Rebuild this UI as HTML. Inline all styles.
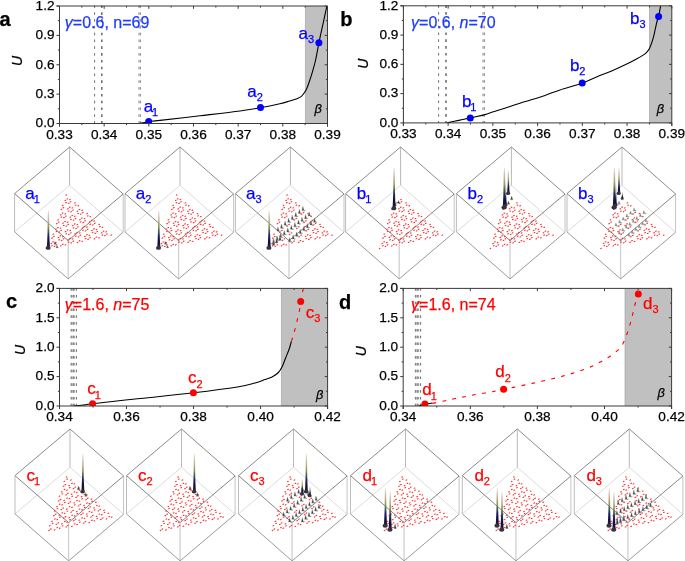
<!DOCTYPE html>
<html><head><meta charset="utf-8"><style>
html,body{margin:0;padding:0;background:#fff;width:685px;height:561px;overflow:hidden}
svg{display:block;will-change:transform}
text{font-family:"Liberation Sans", sans-serif;stroke:currentColor;stroke-width:0.25px;paint-order:stroke}
</style></head><body>
<svg width="685" height="561" viewBox="0 0 685 561" font-family='"Liberation Sans", sans-serif'>
<rect width="685" height="561" fill="#fff"/>
<rect x="305.40" y="6.00" width="22.10" height="117.50" fill="#c0c0c0"/>
<line x1="305.40" y1="6.00" x2="305.40" y2="123.50" stroke="#9a9a9a" stroke-width="0.6"/>
<line x1="94.60" y1="5.50" x2="94.60" y2="123.50" stroke="#707070" stroke-width="1" stroke-dasharray="2.6 4.2"/>
<line x1="101.80" y1="5.50" x2="101.80" y2="123.50" stroke="#707070" stroke-width="1.6" stroke-dasharray="2.6 4.2"/>
<line x1="139.00" y1="5.50" x2="139.00" y2="123.50" stroke="#6a6a6a" stroke-width="0.8" stroke-dasharray="2.6 4.2"/>
<line x1="140.40" y1="5.50" x2="140.40" y2="123.50" stroke="#6a6a6a" stroke-width="0.8" stroke-dasharray="2.6 4.2"/>
<clipPath id="clip59_6"><rect x="59.50" y="6.00" width="268.00" height="117.50"/></clipPath>
<g clip-path="url(#clip59_6)">
<path d="M139.70,123.30 C140.75,123.12 144.50,122.48 146.00,122.20 C147.50,121.92 146.37,121.90 148.70,121.60 C151.03,121.30 151.45,121.37 160.00,120.40 C168.55,119.43 186.67,117.37 200.00,115.80 C213.33,114.23 229.92,112.35 240.00,111.00 C250.08,109.65 253.87,108.90 260.50,107.70 C267.13,106.50 274.95,104.92 279.80,103.80 C284.65,102.68 286.65,101.90 289.60,101.00 C292.55,100.10 295.53,99.18 297.50,98.40 C299.47,97.62 300.27,97.23 301.40,96.30 C302.53,95.37 303.40,94.12 304.30,92.80 C305.20,91.48 305.98,90.20 306.80,88.40 C307.62,86.60 308.30,84.62 309.20,82.00 C310.10,79.38 311.13,76.37 312.20,72.70 C313.27,69.03 314.48,64.98 315.60,60.00 C316.72,55.02 317.77,48.35 318.90,42.80 C320.03,37.25 321.08,32.78 322.40,26.70 C323.72,20.62 326.07,9.70 326.80,6.30" fill="none" stroke="#000" stroke-width="1.1"/>
<circle cx="148.70" cy="121.60" r="3.5" fill="#0000ff"/>
<circle cx="260.50" cy="107.60" r="3.5" fill="#0000ff"/>
<circle cx="318.90" cy="42.80" r="3.5" fill="#0000ff"/>
</g>
<line x1="56.50" y1="6.00" x2="327.50" y2="6.00" stroke="#3a3a3a" stroke-width="1"/>
<line x1="59.50" y1="123.50" x2="327.50" y2="123.50" stroke="#3a3a3a" stroke-width="1"/>
<line x1="59.50" y1="6.00" x2="59.50" y2="126.50" stroke="#3a3a3a" stroke-width="1"/>
<line x1="327.50" y1="6.00" x2="327.50" y2="126.50" stroke="#3a3a3a" stroke-width="1"/>
<line x1="59.50" y1="123.50" x2="59.50" y2="126.50" stroke="#3a3a3a" stroke-width="1"/>
<line x1="59.50" y1="6.00" x2="59.50" y2="8.80" stroke="#3a3a3a" stroke-width="1"/>
<text x="59.50" y="138.60" font-size="13.6" fill="#000" color="#000" text-anchor="middle" font-weight="normal" font-style="normal" >0.33</text>
<line x1="104.17" y1="123.50" x2="104.17" y2="126.50" stroke="#3a3a3a" stroke-width="1"/>
<line x1="104.17" y1="6.00" x2="104.17" y2="8.80" stroke="#3a3a3a" stroke-width="1"/>
<text x="104.17" y="138.60" font-size="13.6" fill="#000" color="#000" text-anchor="middle" font-weight="normal" font-style="normal" >0.34</text>
<line x1="148.83" y1="123.50" x2="148.83" y2="126.50" stroke="#3a3a3a" stroke-width="1"/>
<line x1="148.83" y1="6.00" x2="148.83" y2="8.80" stroke="#3a3a3a" stroke-width="1"/>
<text x="148.83" y="138.60" font-size="13.6" fill="#000" color="#000" text-anchor="middle" font-weight="normal" font-style="normal" >0.35</text>
<line x1="193.50" y1="123.50" x2="193.50" y2="126.50" stroke="#3a3a3a" stroke-width="1"/>
<line x1="193.50" y1="6.00" x2="193.50" y2="8.80" stroke="#3a3a3a" stroke-width="1"/>
<text x="193.50" y="138.60" font-size="13.6" fill="#000" color="#000" text-anchor="middle" font-weight="normal" font-style="normal" >0.36</text>
<line x1="238.17" y1="123.50" x2="238.17" y2="126.50" stroke="#3a3a3a" stroke-width="1"/>
<line x1="238.17" y1="6.00" x2="238.17" y2="8.80" stroke="#3a3a3a" stroke-width="1"/>
<text x="238.17" y="138.60" font-size="13.6" fill="#000" color="#000" text-anchor="middle" font-weight="normal" font-style="normal" >0.37</text>
<line x1="282.83" y1="123.50" x2="282.83" y2="126.50" stroke="#3a3a3a" stroke-width="1"/>
<line x1="282.83" y1="6.00" x2="282.83" y2="8.80" stroke="#3a3a3a" stroke-width="1"/>
<text x="282.83" y="138.60" font-size="13.6" fill="#000" color="#000" text-anchor="middle" font-weight="normal" font-style="normal" >0.38</text>
<line x1="327.50" y1="123.50" x2="327.50" y2="126.50" stroke="#3a3a3a" stroke-width="1"/>
<line x1="327.50" y1="6.00" x2="327.50" y2="8.80" stroke="#3a3a3a" stroke-width="1"/>
<text x="327.50" y="138.60" font-size="13.6" fill="#000" color="#000" text-anchor="middle" font-weight="normal" font-style="normal" >0.39</text>
<line x1="81.83" y1="123.50" x2="81.83" y2="125.10" stroke="#3a3a3a" stroke-width="1"/>
<line x1="81.83" y1="6.00" x2="81.83" y2="7.60" stroke="#3a3a3a" stroke-width="1"/>
<line x1="126.50" y1="123.50" x2="126.50" y2="125.10" stroke="#3a3a3a" stroke-width="1"/>
<line x1="126.50" y1="6.00" x2="126.50" y2="7.60" stroke="#3a3a3a" stroke-width="1"/>
<line x1="171.17" y1="123.50" x2="171.17" y2="125.10" stroke="#3a3a3a" stroke-width="1"/>
<line x1="171.17" y1="6.00" x2="171.17" y2="7.60" stroke="#3a3a3a" stroke-width="1"/>
<line x1="215.83" y1="123.50" x2="215.83" y2="125.10" stroke="#3a3a3a" stroke-width="1"/>
<line x1="215.83" y1="6.00" x2="215.83" y2="7.60" stroke="#3a3a3a" stroke-width="1"/>
<line x1="260.50" y1="123.50" x2="260.50" y2="125.10" stroke="#3a3a3a" stroke-width="1"/>
<line x1="260.50" y1="6.00" x2="260.50" y2="7.60" stroke="#3a3a3a" stroke-width="1"/>
<line x1="305.17" y1="123.50" x2="305.17" y2="125.10" stroke="#3a3a3a" stroke-width="1"/>
<line x1="305.17" y1="6.00" x2="305.17" y2="7.60" stroke="#3a3a3a" stroke-width="1"/>
<line x1="56.50" y1="123.50" x2="59.50" y2="123.50" stroke="#3a3a3a" stroke-width="1"/>
<line x1="324.70" y1="123.50" x2="327.50" y2="123.50" stroke="#3a3a3a" stroke-width="1"/>
<text x="54.50" y="127.30" font-size="13.6" fill="#000" color="#000" text-anchor="end" font-weight="normal" font-style="normal" >0.0</text>
<line x1="56.50" y1="94.12" x2="59.50" y2="94.12" stroke="#3a3a3a" stroke-width="1"/>
<line x1="324.70" y1="94.12" x2="327.50" y2="94.12" stroke="#3a3a3a" stroke-width="1"/>
<text x="54.50" y="97.92" font-size="13.6" fill="#000" color="#000" text-anchor="end" font-weight="normal" font-style="normal" >0.3</text>
<line x1="56.50" y1="64.75" x2="59.50" y2="64.75" stroke="#3a3a3a" stroke-width="1"/>
<line x1="324.70" y1="64.75" x2="327.50" y2="64.75" stroke="#3a3a3a" stroke-width="1"/>
<text x="54.50" y="68.55" font-size="13.6" fill="#000" color="#000" text-anchor="end" font-weight="normal" font-style="normal" >0.6</text>
<line x1="56.50" y1="35.38" x2="59.50" y2="35.38" stroke="#3a3a3a" stroke-width="1"/>
<line x1="324.70" y1="35.38" x2="327.50" y2="35.38" stroke="#3a3a3a" stroke-width="1"/>
<text x="54.50" y="39.17" font-size="13.6" fill="#000" color="#000" text-anchor="end" font-weight="normal" font-style="normal" >0.9</text>
<line x1="56.50" y1="6.00" x2="59.50" y2="6.00" stroke="#3a3a3a" stroke-width="1"/>
<line x1="324.70" y1="6.00" x2="327.50" y2="6.00" stroke="#3a3a3a" stroke-width="1"/>
<text x="54.50" y="9.80" font-size="13.6" fill="#000" color="#000" text-anchor="end" font-weight="normal" font-style="normal" >1.2</text>
<line x1="57.90" y1="108.81" x2="59.50" y2="108.81" stroke="#3a3a3a" stroke-width="1"/>
<line x1="325.90" y1="108.81" x2="327.50" y2="108.81" stroke="#3a3a3a" stroke-width="1"/>
<line x1="57.90" y1="79.44" x2="59.50" y2="79.44" stroke="#3a3a3a" stroke-width="1"/>
<line x1="325.90" y1="79.44" x2="327.50" y2="79.44" stroke="#3a3a3a" stroke-width="1"/>
<line x1="57.90" y1="50.06" x2="59.50" y2="50.06" stroke="#3a3a3a" stroke-width="1"/>
<line x1="325.90" y1="50.06" x2="327.50" y2="50.06" stroke="#3a3a3a" stroke-width="1"/>
<line x1="57.90" y1="20.69" x2="59.50" y2="20.69" stroke="#3a3a3a" stroke-width="1"/>
<line x1="325.90" y1="20.69" x2="327.50" y2="20.69" stroke="#3a3a3a" stroke-width="1"/>
<text x="143.70" y="111.80" font-size="17" fill="#0000ff" color="#0000ff" text-anchor="start" font-weight="normal" font-style="normal" >a</text>
<text x="152.05" y="116.20" font-size="11" fill="#0000ff" color="#0000ff" text-anchor="start" font-weight="normal" font-style="normal" >1</text>
<text x="247.30" y="97.00" font-size="17" fill="#0000ff" color="#0000ff" text-anchor="start" font-weight="normal" font-style="normal" >a</text>
<text x="256.75" y="101.40" font-size="11" fill="#0000ff" color="#0000ff" text-anchor="start" font-weight="normal" font-style="normal" >2</text>
<text x="298.50" y="39.00" font-size="17" fill="#0000ff" color="#0000ff" text-anchor="start" font-weight="normal" font-style="normal" >a</text>
<text x="307.95" y="43.40" font-size="11" fill="#0000ff" color="#0000ff" text-anchor="start" font-weight="normal" font-style="normal" >3</text>
<text x="314.40" y="113.05" font-size="12.8" fill="#000" color="#000" text-anchor="start" font-weight="normal" font-style="italic" >&#946;</text>
<text x="0" y="0" font-size="14" font-style="italic" text-anchor="middle" transform="translate(22.25,60.95) rotate(-90)">U</text>
<text x="-0.50" y="25.50" font-size="20" fill="#000" color="#000" text-anchor="start" font-weight="bold" font-style="normal" >a</text>
<text x="64.80" y="27.90" font-size="16" fill="#1e3cff" color="#1e3cff"><tspan font-style="italic">&#947;</tspan>=0.6, <tspan font-style="normal">n</tspan>=69</text>
<rect x="649.50" y="5.80" width="22.30" height="117.10" fill="#c0c0c0"/>
<line x1="649.50" y1="5.80" x2="649.50" y2="122.90" stroke="#9a9a9a" stroke-width="0.6"/>
<line x1="438.60" y1="5.30" x2="438.60" y2="122.90" stroke="#707070" stroke-width="1" stroke-dasharray="2.6 4.2"/>
<line x1="446.00" y1="5.30" x2="446.00" y2="122.90" stroke="#707070" stroke-width="1.6" stroke-dasharray="2.6 4.2"/>
<line x1="483.00" y1="5.30" x2="483.00" y2="122.90" stroke="#6a6a6a" stroke-width="0.8" stroke-dasharray="2.6 4.2"/>
<line x1="484.40" y1="5.30" x2="484.40" y2="122.90" stroke="#6a6a6a" stroke-width="0.8" stroke-dasharray="2.6 4.2"/>
<clipPath id="clip403_5"><rect x="403.40" y="5.80" width="268.40" height="117.10"/></clipPath>
<g clip-path="url(#clip403_5)">
<path d="M447.00,122.90 C448.95,122.48 454.80,121.23 458.70,120.40 C462.60,119.57 466.52,118.74 470.40,117.90 C474.28,117.06 479.77,115.85 482.00,115.35 C484.23,114.85 483.20,115.07 483.80,114.90 C484.40,114.73 482.78,115.23 485.60,114.35 C488.42,113.47 494.97,111.46 500.70,109.60 C506.43,107.74 512.62,105.57 520.00,103.20 C527.38,100.83 538.33,97.62 545.00,95.40 C551.67,93.18 553.80,91.93 560.00,89.90 C566.20,87.87 576.12,85.35 582.20,83.20 C588.28,81.05 591.68,79.00 596.50,77.00 C601.32,75.00 606.23,73.27 611.10,71.20 C615.97,69.13 621.32,66.72 625.70,64.60 C630.08,62.48 634.23,60.25 637.40,58.50 C640.57,56.75 642.88,55.45 644.70,54.10 C646.52,52.75 647.33,51.73 648.30,50.40 C649.27,49.07 649.65,48.28 650.50,46.10 C651.35,43.92 652.60,40.15 653.40,37.30 C654.20,34.45 654.70,31.63 655.30,29.00 C655.90,26.37 656.45,23.58 657.00,21.50 C657.55,19.42 658.00,19.12 658.60,16.50 C659.20,13.88 660.27,7.58 660.60,5.80" fill="none" stroke="#000" stroke-width="1.1"/>
<circle cx="470.30" cy="118.10" r="3.5" fill="#0000ff"/>
<circle cx="582.20" cy="83.10" r="3.5" fill="#0000ff"/>
<circle cx="658.60" cy="16.50" r="3.5" fill="#0000ff"/>
</g>
<line x1="400.40" y1="5.80" x2="671.80" y2="5.80" stroke="#3a3a3a" stroke-width="1"/>
<line x1="403.40" y1="122.90" x2="671.80" y2="122.90" stroke="#3a3a3a" stroke-width="1"/>
<line x1="403.40" y1="5.80" x2="403.40" y2="125.90" stroke="#3a3a3a" stroke-width="1"/>
<line x1="671.80" y1="5.80" x2="671.80" y2="125.90" stroke="#3a3a3a" stroke-width="1"/>
<line x1="403.40" y1="122.90" x2="403.40" y2="125.90" stroke="#3a3a3a" stroke-width="1"/>
<line x1="403.40" y1="5.80" x2="403.40" y2="8.60" stroke="#3a3a3a" stroke-width="1"/>
<text x="403.40" y="138.10" font-size="13.6" fill="#000" color="#000" text-anchor="middle" font-weight="normal" font-style="normal" >0.33</text>
<line x1="448.13" y1="122.90" x2="448.13" y2="125.90" stroke="#3a3a3a" stroke-width="1"/>
<line x1="448.13" y1="5.80" x2="448.13" y2="8.60" stroke="#3a3a3a" stroke-width="1"/>
<text x="448.13" y="138.10" font-size="13.6" fill="#000" color="#000" text-anchor="middle" font-weight="normal" font-style="normal" >0.34</text>
<line x1="492.87" y1="122.90" x2="492.87" y2="125.90" stroke="#3a3a3a" stroke-width="1"/>
<line x1="492.87" y1="5.80" x2="492.87" y2="8.60" stroke="#3a3a3a" stroke-width="1"/>
<text x="492.87" y="138.10" font-size="13.6" fill="#000" color="#000" text-anchor="middle" font-weight="normal" font-style="normal" >0.35</text>
<line x1="537.60" y1="122.90" x2="537.60" y2="125.90" stroke="#3a3a3a" stroke-width="1"/>
<line x1="537.60" y1="5.80" x2="537.60" y2="8.60" stroke="#3a3a3a" stroke-width="1"/>
<text x="537.60" y="138.10" font-size="13.6" fill="#000" color="#000" text-anchor="middle" font-weight="normal" font-style="normal" >0.36</text>
<line x1="582.33" y1="122.90" x2="582.33" y2="125.90" stroke="#3a3a3a" stroke-width="1"/>
<line x1="582.33" y1="5.80" x2="582.33" y2="8.60" stroke="#3a3a3a" stroke-width="1"/>
<text x="582.33" y="138.10" font-size="13.6" fill="#000" color="#000" text-anchor="middle" font-weight="normal" font-style="normal" >0.37</text>
<line x1="627.07" y1="122.90" x2="627.07" y2="125.90" stroke="#3a3a3a" stroke-width="1"/>
<line x1="627.07" y1="5.80" x2="627.07" y2="8.60" stroke="#3a3a3a" stroke-width="1"/>
<text x="627.07" y="138.10" font-size="13.6" fill="#000" color="#000" text-anchor="middle" font-weight="normal" font-style="normal" >0.38</text>
<line x1="671.80" y1="122.90" x2="671.80" y2="125.90" stroke="#3a3a3a" stroke-width="1"/>
<line x1="671.80" y1="5.80" x2="671.80" y2="8.60" stroke="#3a3a3a" stroke-width="1"/>
<text x="671.80" y="138.10" font-size="13.6" fill="#000" color="#000" text-anchor="middle" font-weight="normal" font-style="normal" >0.39</text>
<line x1="425.77" y1="122.90" x2="425.77" y2="124.50" stroke="#3a3a3a" stroke-width="1"/>
<line x1="425.77" y1="5.80" x2="425.77" y2="7.40" stroke="#3a3a3a" stroke-width="1"/>
<line x1="470.50" y1="122.90" x2="470.50" y2="124.50" stroke="#3a3a3a" stroke-width="1"/>
<line x1="470.50" y1="5.80" x2="470.50" y2="7.40" stroke="#3a3a3a" stroke-width="1"/>
<line x1="515.23" y1="122.90" x2="515.23" y2="124.50" stroke="#3a3a3a" stroke-width="1"/>
<line x1="515.23" y1="5.80" x2="515.23" y2="7.40" stroke="#3a3a3a" stroke-width="1"/>
<line x1="559.97" y1="122.90" x2="559.97" y2="124.50" stroke="#3a3a3a" stroke-width="1"/>
<line x1="559.97" y1="5.80" x2="559.97" y2="7.40" stroke="#3a3a3a" stroke-width="1"/>
<line x1="604.70" y1="122.90" x2="604.70" y2="124.50" stroke="#3a3a3a" stroke-width="1"/>
<line x1="604.70" y1="5.80" x2="604.70" y2="7.40" stroke="#3a3a3a" stroke-width="1"/>
<line x1="649.43" y1="122.90" x2="649.43" y2="124.50" stroke="#3a3a3a" stroke-width="1"/>
<line x1="649.43" y1="5.80" x2="649.43" y2="7.40" stroke="#3a3a3a" stroke-width="1"/>
<line x1="400.40" y1="122.90" x2="403.40" y2="122.90" stroke="#3a3a3a" stroke-width="1"/>
<line x1="669.00" y1="122.90" x2="671.80" y2="122.90" stroke="#3a3a3a" stroke-width="1"/>
<text x="398.40" y="126.70" font-size="13.6" fill="#000" color="#000" text-anchor="end" font-weight="normal" font-style="normal" >0.0</text>
<line x1="400.40" y1="93.62" x2="403.40" y2="93.62" stroke="#3a3a3a" stroke-width="1"/>
<line x1="669.00" y1="93.62" x2="671.80" y2="93.62" stroke="#3a3a3a" stroke-width="1"/>
<text x="398.40" y="97.42" font-size="13.6" fill="#000" color="#000" text-anchor="end" font-weight="normal" font-style="normal" >0.3</text>
<line x1="400.40" y1="64.35" x2="403.40" y2="64.35" stroke="#3a3a3a" stroke-width="1"/>
<line x1="669.00" y1="64.35" x2="671.80" y2="64.35" stroke="#3a3a3a" stroke-width="1"/>
<text x="398.40" y="68.15" font-size="13.6" fill="#000" color="#000" text-anchor="end" font-weight="normal" font-style="normal" >0.6</text>
<line x1="400.40" y1="35.08" x2="403.40" y2="35.08" stroke="#3a3a3a" stroke-width="1"/>
<line x1="669.00" y1="35.08" x2="671.80" y2="35.08" stroke="#3a3a3a" stroke-width="1"/>
<text x="398.40" y="38.88" font-size="13.6" fill="#000" color="#000" text-anchor="end" font-weight="normal" font-style="normal" >0.9</text>
<line x1="400.40" y1="5.80" x2="403.40" y2="5.80" stroke="#3a3a3a" stroke-width="1"/>
<line x1="669.00" y1="5.80" x2="671.80" y2="5.80" stroke="#3a3a3a" stroke-width="1"/>
<text x="398.40" y="9.60" font-size="13.6" fill="#000" color="#000" text-anchor="end" font-weight="normal" font-style="normal" >1.2</text>
<line x1="401.80" y1="108.26" x2="403.40" y2="108.26" stroke="#3a3a3a" stroke-width="1"/>
<line x1="670.20" y1="108.26" x2="671.80" y2="108.26" stroke="#3a3a3a" stroke-width="1"/>
<line x1="401.80" y1="78.99" x2="403.40" y2="78.99" stroke="#3a3a3a" stroke-width="1"/>
<line x1="670.20" y1="78.99" x2="671.80" y2="78.99" stroke="#3a3a3a" stroke-width="1"/>
<line x1="401.80" y1="49.71" x2="403.40" y2="49.71" stroke="#3a3a3a" stroke-width="1"/>
<line x1="670.20" y1="49.71" x2="671.80" y2="49.71" stroke="#3a3a3a" stroke-width="1"/>
<line x1="401.80" y1="20.44" x2="403.40" y2="20.44" stroke="#3a3a3a" stroke-width="1"/>
<line x1="670.20" y1="20.44" x2="671.80" y2="20.44" stroke="#3a3a3a" stroke-width="1"/>
<text x="462.00" y="107.00" font-size="17" fill="#0000ff" color="#0000ff" text-anchor="start" font-weight="normal" font-style="normal" >b</text>
<text x="470.35" y="111.40" font-size="11" fill="#0000ff" color="#0000ff" text-anchor="start" font-weight="normal" font-style="normal" >1</text>
<text x="569.90" y="70.80" font-size="17" fill="#0000ff" color="#0000ff" text-anchor="start" font-weight="normal" font-style="normal" >b</text>
<text x="579.35" y="75.20" font-size="11" fill="#0000ff" color="#0000ff" text-anchor="start" font-weight="normal" font-style="normal" >2</text>
<text x="630.10" y="24.00" font-size="17" fill="#0000ff" color="#0000ff" text-anchor="start" font-weight="normal" font-style="normal" >b</text>
<text x="639.55" y="28.40" font-size="11" fill="#0000ff" color="#0000ff" text-anchor="start" font-weight="normal" font-style="normal" >3</text>
<text x="656.75" y="112.95" font-size="12.8" fill="#000" color="#000" text-anchor="start" font-weight="normal" font-style="italic" >&#946;</text>
<text x="0" y="0" font-size="14" font-style="italic" text-anchor="middle" transform="translate(368.20,63.60) rotate(-90)">U</text>
<text x="340.20" y="25.50" font-size="20" fill="#000" color="#000" text-anchor="start" font-weight="bold" font-style="normal" >b</text>
<text x="411.10" y="27.90" font-size="16" fill="#1e3cff" color="#1e3cff"><tspan font-style="italic">&#947;</tspan>=0.6, <tspan font-style="italic">n</tspan>=70</text>
<rect x="281.40" y="288.40" width="46.20" height="117.60" fill="#c0c0c0"/>
<line x1="281.40" y1="288.40" x2="281.40" y2="406.00" stroke="#9a9a9a" stroke-width="0.6"/>
<line x1="72.90" y1="288.10" x2="72.90" y2="406.00" stroke="#b4b4b4" stroke-width="4.4" stroke-dasharray="2.6 4.2"/>
<line x1="71.20" y1="288.10" x2="71.20" y2="406.00" stroke="#7a7a7a" stroke-width="0.9" stroke-dasharray="2.6 4.2"/>
<line x1="73.60" y1="288.10" x2="73.60" y2="406.00" stroke="#7a7a7a" stroke-width="0.9" stroke-dasharray="2.6 4.2"/>
<line x1="76.40" y1="288.10" x2="76.40" y2="406.00" stroke="#6a6a6a" stroke-width="1" stroke-dasharray="2.6 4.2"/>
<clipPath id="clip59_288"><rect x="59.50" y="288.40" width="268.10" height="117.60"/></clipPath>
<g clip-path="url(#clip59_288)">
<path d="M73.80,406.00 C75.67,405.82 81.87,405.28 85.00,404.90 C88.13,404.52 83.43,404.77 92.60,403.70 C101.77,402.63 123.20,400.32 140.00,398.50 C156.80,396.68 177.17,394.72 193.40,392.80 C209.63,390.88 227.13,388.63 237.40,387.00 C247.67,385.37 250.40,384.23 255.00,383.00 C259.60,381.77 262.15,380.60 265.00,379.60 C267.85,378.60 269.87,378.18 272.10,377.00 C274.33,375.82 276.75,374.15 278.40,372.50 C280.05,370.85 280.82,369.48 282.00,367.10 C283.18,364.72 284.32,361.17 285.50,358.20 C286.68,355.23 288.12,352.12 289.10,349.30 C290.08,346.48 291.02,342.63 291.40,341.30" fill="none" stroke="#000" stroke-width="1.1"/>
<path d="M291.40,341.30 C291.83,339.92 293.07,336.38 294.00,333.00 C294.93,329.62 296.08,324.83 297.00,321.00 C297.92,317.17 298.88,313.23 299.50,310.00 C300.12,306.77 300.20,304.58 300.70,301.60 C301.20,298.62 302.05,294.27 302.50,292.10 C302.95,289.93 303.25,289.18 303.40,288.60" fill="none" stroke="#ff0000" stroke-width="1.1" stroke-dasharray="3.8 6.3"/>
<circle cx="92.60" cy="403.70" r="3.5" fill="#ff0000"/>
<circle cx="193.40" cy="392.80" r="3.5" fill="#ff0000"/>
<circle cx="300.70" cy="301.50" r="3.5" fill="#ff0000"/>
</g>
<line x1="56.50" y1="288.40" x2="327.60" y2="288.40" stroke="#3a3a3a" stroke-width="1"/>
<line x1="59.50" y1="406.00" x2="327.60" y2="406.00" stroke="#3a3a3a" stroke-width="1"/>
<line x1="59.50" y1="288.40" x2="59.50" y2="409.00" stroke="#3a3a3a" stroke-width="1"/>
<line x1="327.60" y1="288.40" x2="327.60" y2="409.00" stroke="#3a3a3a" stroke-width="1"/>
<line x1="59.50" y1="406.00" x2="59.50" y2="409.00" stroke="#3a3a3a" stroke-width="1"/>
<line x1="59.50" y1="288.40" x2="59.50" y2="291.20" stroke="#3a3a3a" stroke-width="1"/>
<text x="59.50" y="421.30" font-size="13.6" fill="#000" color="#000" text-anchor="middle" font-weight="normal" font-style="normal" >0.34</text>
<line x1="126.52" y1="406.00" x2="126.52" y2="409.00" stroke="#3a3a3a" stroke-width="1"/>
<line x1="126.52" y1="288.40" x2="126.52" y2="291.20" stroke="#3a3a3a" stroke-width="1"/>
<text x="126.52" y="421.30" font-size="13.6" fill="#000" color="#000" text-anchor="middle" font-weight="normal" font-style="normal" >0.36</text>
<line x1="193.55" y1="406.00" x2="193.55" y2="409.00" stroke="#3a3a3a" stroke-width="1"/>
<line x1="193.55" y1="288.40" x2="193.55" y2="291.20" stroke="#3a3a3a" stroke-width="1"/>
<text x="193.55" y="421.30" font-size="13.6" fill="#000" color="#000" text-anchor="middle" font-weight="normal" font-style="normal" >0.38</text>
<line x1="260.58" y1="406.00" x2="260.58" y2="409.00" stroke="#3a3a3a" stroke-width="1"/>
<line x1="260.58" y1="288.40" x2="260.58" y2="291.20" stroke="#3a3a3a" stroke-width="1"/>
<text x="260.58" y="421.30" font-size="13.6" fill="#000" color="#000" text-anchor="middle" font-weight="normal" font-style="normal" >0.40</text>
<line x1="327.60" y1="406.00" x2="327.60" y2="409.00" stroke="#3a3a3a" stroke-width="1"/>
<line x1="327.60" y1="288.40" x2="327.60" y2="291.20" stroke="#3a3a3a" stroke-width="1"/>
<text x="327.60" y="421.30" font-size="13.6" fill="#000" color="#000" text-anchor="middle" font-weight="normal" font-style="normal" >0.42</text>
<line x1="93.01" y1="406.00" x2="93.01" y2="407.60" stroke="#3a3a3a" stroke-width="1"/>
<line x1="93.01" y1="288.40" x2="93.01" y2="290.00" stroke="#3a3a3a" stroke-width="1"/>
<line x1="160.04" y1="406.00" x2="160.04" y2="407.60" stroke="#3a3a3a" stroke-width="1"/>
<line x1="160.04" y1="288.40" x2="160.04" y2="290.00" stroke="#3a3a3a" stroke-width="1"/>
<line x1="227.06" y1="406.00" x2="227.06" y2="407.60" stroke="#3a3a3a" stroke-width="1"/>
<line x1="227.06" y1="288.40" x2="227.06" y2="290.00" stroke="#3a3a3a" stroke-width="1"/>
<line x1="294.09" y1="406.00" x2="294.09" y2="407.60" stroke="#3a3a3a" stroke-width="1"/>
<line x1="294.09" y1="288.40" x2="294.09" y2="290.00" stroke="#3a3a3a" stroke-width="1"/>
<line x1="56.50" y1="406.00" x2="59.50" y2="406.00" stroke="#3a3a3a" stroke-width="1"/>
<line x1="324.80" y1="406.00" x2="327.60" y2="406.00" stroke="#3a3a3a" stroke-width="1"/>
<text x="54.50" y="409.80" font-size="13.6" fill="#000" color="#000" text-anchor="end" font-weight="normal" font-style="normal" >0.0</text>
<line x1="56.50" y1="376.60" x2="59.50" y2="376.60" stroke="#3a3a3a" stroke-width="1"/>
<line x1="324.80" y1="376.60" x2="327.60" y2="376.60" stroke="#3a3a3a" stroke-width="1"/>
<text x="54.50" y="380.40" font-size="13.6" fill="#000" color="#000" text-anchor="end" font-weight="normal" font-style="normal" >0.5</text>
<line x1="56.50" y1="347.20" x2="59.50" y2="347.20" stroke="#3a3a3a" stroke-width="1"/>
<line x1="324.80" y1="347.20" x2="327.60" y2="347.20" stroke="#3a3a3a" stroke-width="1"/>
<text x="54.50" y="351.00" font-size="13.6" fill="#000" color="#000" text-anchor="end" font-weight="normal" font-style="normal" >1.0</text>
<line x1="56.50" y1="317.80" x2="59.50" y2="317.80" stroke="#3a3a3a" stroke-width="1"/>
<line x1="324.80" y1="317.80" x2="327.60" y2="317.80" stroke="#3a3a3a" stroke-width="1"/>
<text x="54.50" y="321.60" font-size="13.6" fill="#000" color="#000" text-anchor="end" font-weight="normal" font-style="normal" >1.5</text>
<line x1="56.50" y1="288.40" x2="59.50" y2="288.40" stroke="#3a3a3a" stroke-width="1"/>
<line x1="324.80" y1="288.40" x2="327.60" y2="288.40" stroke="#3a3a3a" stroke-width="1"/>
<text x="54.50" y="292.20" font-size="13.6" fill="#000" color="#000" text-anchor="end" font-weight="normal" font-style="normal" >2.0</text>
<line x1="57.90" y1="391.30" x2="59.50" y2="391.30" stroke="#3a3a3a" stroke-width="1"/>
<line x1="326.00" y1="391.30" x2="327.60" y2="391.30" stroke="#3a3a3a" stroke-width="1"/>
<line x1="57.90" y1="361.90" x2="59.50" y2="361.90" stroke="#3a3a3a" stroke-width="1"/>
<line x1="326.00" y1="361.90" x2="327.60" y2="361.90" stroke="#3a3a3a" stroke-width="1"/>
<line x1="57.90" y1="332.50" x2="59.50" y2="332.50" stroke="#3a3a3a" stroke-width="1"/>
<line x1="326.00" y1="332.50" x2="327.60" y2="332.50" stroke="#3a3a3a" stroke-width="1"/>
<line x1="57.90" y1="303.10" x2="59.50" y2="303.10" stroke="#3a3a3a" stroke-width="1"/>
<line x1="326.00" y1="303.10" x2="327.60" y2="303.10" stroke="#3a3a3a" stroke-width="1"/>
<text x="87.30" y="394.40" font-size="17" fill="#ff0000" color="#ff0000" text-anchor="start" font-weight="normal" font-style="normal" >c</text>
<text x="94.70" y="398.80" font-size="11" fill="#ff0000" color="#ff0000" text-anchor="start" font-weight="normal" font-style="normal" >1</text>
<text x="187.90" y="383.40" font-size="17" fill="#ff0000" color="#ff0000" text-anchor="start" font-weight="normal" font-style="normal" >c</text>
<text x="196.40" y="387.80" font-size="11" fill="#ff0000" color="#ff0000" text-anchor="start" font-weight="normal" font-style="normal" >2</text>
<text x="305.70" y="317.60" font-size="17" fill="#ff0000" color="#ff0000" text-anchor="start" font-weight="normal" font-style="normal" >c</text>
<text x="314.20" y="322.00" font-size="11" fill="#ff0000" color="#ff0000" text-anchor="start" font-weight="normal" font-style="normal" >3</text>
<text x="315.90" y="398.85" font-size="12.8" fill="#000" color="#000" text-anchor="start" font-weight="normal" font-style="italic" >&#946;</text>
<text x="0" y="0" font-size="14" font-style="italic" text-anchor="middle" transform="translate(25.20,350.00) rotate(-90)">U</text>
<text x="6.00" y="308.20" font-size="20" fill="#000" color="#000" text-anchor="start" font-weight="bold" font-style="normal" >c</text>
<text x="64.80" y="309.60" font-size="16" fill="#ff0000" color="#ff0000"><tspan font-style="italic">&#947;</tspan>=1.6, <tspan font-style="italic">n</tspan>=75</text>
<rect x="625.00" y="288.40" width="46.60" height="117.60" fill="#c0c0c0"/>
<line x1="625.00" y1="288.40" x2="625.00" y2="406.00" stroke="#9a9a9a" stroke-width="0.6"/>
<line x1="417.10" y1="288.10" x2="417.10" y2="406.00" stroke="#b4b4b4" stroke-width="4.4" stroke-dasharray="2.6 4.2"/>
<line x1="415.40" y1="288.10" x2="415.40" y2="406.00" stroke="#7a7a7a" stroke-width="0.9" stroke-dasharray="2.6 4.2"/>
<line x1="417.80" y1="288.10" x2="417.80" y2="406.00" stroke="#7a7a7a" stroke-width="0.9" stroke-dasharray="2.6 4.2"/>
<line x1="420.60" y1="288.10" x2="420.60" y2="406.00" stroke="#6a6a6a" stroke-width="1" stroke-dasharray="2.6 4.2"/>
<clipPath id="clip403_288"><rect x="403.20" y="288.40" width="268.40" height="117.60"/></clipPath>
<g clip-path="url(#clip403_288)">
<path d="M419.00,406.00 C420.00,405.70 422.75,404.68 425.00,404.20 C427.25,403.72 431.25,403.28 432.50,403.10" fill="none" stroke="#000" stroke-width="1.1"/>
<path d="M432.50,403.40 C434.43,403.00 440.47,401.78 444.10,401.00 C447.73,400.22 450.90,399.42 454.30,398.70 C457.70,397.98 461.22,397.35 464.50,396.70 C467.78,396.05 470.58,395.42 474.00,394.80 C477.42,394.18 481.58,393.58 485.00,393.00 C488.42,392.42 491.40,391.88 494.50,391.30 C497.60,390.72 500.50,390.15 503.60,389.50 C506.70,388.85 508.35,388.42 513.10,387.40 C517.85,386.38 525.52,384.85 532.10,383.40 C538.68,381.95 546.03,380.33 552.60,378.70 C559.17,377.07 565.18,375.55 571.50,373.60 C577.82,371.65 585.87,368.83 590.50,367.00 C595.13,365.17 596.45,364.13 599.30,362.60 C602.15,361.07 604.87,359.57 607.60,357.80 C610.33,356.03 613.28,354.10 615.70,352.00 C618.12,349.90 620.37,347.82 622.10,345.20 C623.83,342.58 624.90,339.38 626.10,336.30 C627.30,333.22 628.32,329.90 629.30,326.70 C630.28,323.50 631.12,320.57 632.00,317.10 C632.88,313.63 633.72,309.25 634.60,305.90 C635.48,302.55 636.68,298.98 637.30,297.00 C637.92,295.02 638.13,294.50 638.30,294.00" fill="none" stroke="#ff0000" stroke-width="1.1" stroke-dasharray="3.8 6.3"/>
<circle cx="424.90" cy="404.00" r="3.5" fill="#ff0000"/>
<circle cx="503.60" cy="389.30" r="3.5" fill="#ff0000"/>
<circle cx="638.30" cy="294.00" r="3.5" fill="#ff0000"/>
</g>
<line x1="400.20" y1="288.40" x2="671.60" y2="288.40" stroke="#3a3a3a" stroke-width="1"/>
<line x1="403.20" y1="406.00" x2="671.60" y2="406.00" stroke="#3a3a3a" stroke-width="1"/>
<line x1="403.20" y1="288.40" x2="403.20" y2="409.00" stroke="#3a3a3a" stroke-width="1"/>
<line x1="671.60" y1="288.40" x2="671.60" y2="409.00" stroke="#3a3a3a" stroke-width="1"/>
<line x1="403.20" y1="406.00" x2="403.20" y2="409.00" stroke="#3a3a3a" stroke-width="1"/>
<line x1="403.20" y1="288.40" x2="403.20" y2="291.20" stroke="#3a3a3a" stroke-width="1"/>
<text x="403.20" y="421.30" font-size="13.6" fill="#000" color="#000" text-anchor="middle" font-weight="normal" font-style="normal" >0.34</text>
<line x1="470.30" y1="406.00" x2="470.30" y2="409.00" stroke="#3a3a3a" stroke-width="1"/>
<line x1="470.30" y1="288.40" x2="470.30" y2="291.20" stroke="#3a3a3a" stroke-width="1"/>
<text x="470.30" y="421.30" font-size="13.6" fill="#000" color="#000" text-anchor="middle" font-weight="normal" font-style="normal" >0.36</text>
<line x1="537.40" y1="406.00" x2="537.40" y2="409.00" stroke="#3a3a3a" stroke-width="1"/>
<line x1="537.40" y1="288.40" x2="537.40" y2="291.20" stroke="#3a3a3a" stroke-width="1"/>
<text x="537.40" y="421.30" font-size="13.6" fill="#000" color="#000" text-anchor="middle" font-weight="normal" font-style="normal" >0.38</text>
<line x1="604.50" y1="406.00" x2="604.50" y2="409.00" stroke="#3a3a3a" stroke-width="1"/>
<line x1="604.50" y1="288.40" x2="604.50" y2="291.20" stroke="#3a3a3a" stroke-width="1"/>
<text x="604.50" y="421.30" font-size="13.6" fill="#000" color="#000" text-anchor="middle" font-weight="normal" font-style="normal" >0.40</text>
<line x1="671.60" y1="406.00" x2="671.60" y2="409.00" stroke="#3a3a3a" stroke-width="1"/>
<line x1="671.60" y1="288.40" x2="671.60" y2="291.20" stroke="#3a3a3a" stroke-width="1"/>
<text x="671.60" y="421.30" font-size="13.6" fill="#000" color="#000" text-anchor="middle" font-weight="normal" font-style="normal" >0.42</text>
<line x1="436.75" y1="406.00" x2="436.75" y2="407.60" stroke="#3a3a3a" stroke-width="1"/>
<line x1="436.75" y1="288.40" x2="436.75" y2="290.00" stroke="#3a3a3a" stroke-width="1"/>
<line x1="503.85" y1="406.00" x2="503.85" y2="407.60" stroke="#3a3a3a" stroke-width="1"/>
<line x1="503.85" y1="288.40" x2="503.85" y2="290.00" stroke="#3a3a3a" stroke-width="1"/>
<line x1="570.95" y1="406.00" x2="570.95" y2="407.60" stroke="#3a3a3a" stroke-width="1"/>
<line x1="570.95" y1="288.40" x2="570.95" y2="290.00" stroke="#3a3a3a" stroke-width="1"/>
<line x1="638.05" y1="406.00" x2="638.05" y2="407.60" stroke="#3a3a3a" stroke-width="1"/>
<line x1="638.05" y1="288.40" x2="638.05" y2="290.00" stroke="#3a3a3a" stroke-width="1"/>
<line x1="400.20" y1="406.00" x2="403.20" y2="406.00" stroke="#3a3a3a" stroke-width="1"/>
<line x1="668.80" y1="406.00" x2="671.60" y2="406.00" stroke="#3a3a3a" stroke-width="1"/>
<text x="398.20" y="409.80" font-size="13.6" fill="#000" color="#000" text-anchor="end" font-weight="normal" font-style="normal" >0.0</text>
<line x1="400.20" y1="376.60" x2="403.20" y2="376.60" stroke="#3a3a3a" stroke-width="1"/>
<line x1="668.80" y1="376.60" x2="671.60" y2="376.60" stroke="#3a3a3a" stroke-width="1"/>
<text x="398.20" y="380.40" font-size="13.6" fill="#000" color="#000" text-anchor="end" font-weight="normal" font-style="normal" >0.5</text>
<line x1="400.20" y1="347.20" x2="403.20" y2="347.20" stroke="#3a3a3a" stroke-width="1"/>
<line x1="668.80" y1="347.20" x2="671.60" y2="347.20" stroke="#3a3a3a" stroke-width="1"/>
<text x="398.20" y="351.00" font-size="13.6" fill="#000" color="#000" text-anchor="end" font-weight="normal" font-style="normal" >1.0</text>
<line x1="400.20" y1="317.80" x2="403.20" y2="317.80" stroke="#3a3a3a" stroke-width="1"/>
<line x1="668.80" y1="317.80" x2="671.60" y2="317.80" stroke="#3a3a3a" stroke-width="1"/>
<text x="398.20" y="321.60" font-size="13.6" fill="#000" color="#000" text-anchor="end" font-weight="normal" font-style="normal" >1.5</text>
<line x1="400.20" y1="288.40" x2="403.20" y2="288.40" stroke="#3a3a3a" stroke-width="1"/>
<line x1="668.80" y1="288.40" x2="671.60" y2="288.40" stroke="#3a3a3a" stroke-width="1"/>
<text x="398.20" y="292.20" font-size="13.6" fill="#000" color="#000" text-anchor="end" font-weight="normal" font-style="normal" >2.0</text>
<line x1="401.60" y1="391.30" x2="403.20" y2="391.30" stroke="#3a3a3a" stroke-width="1"/>
<line x1="670.00" y1="391.30" x2="671.60" y2="391.30" stroke="#3a3a3a" stroke-width="1"/>
<line x1="401.60" y1="361.90" x2="403.20" y2="361.90" stroke="#3a3a3a" stroke-width="1"/>
<line x1="670.00" y1="361.90" x2="671.60" y2="361.90" stroke="#3a3a3a" stroke-width="1"/>
<line x1="401.60" y1="332.50" x2="403.20" y2="332.50" stroke="#3a3a3a" stroke-width="1"/>
<line x1="670.00" y1="332.50" x2="671.60" y2="332.50" stroke="#3a3a3a" stroke-width="1"/>
<line x1="401.60" y1="303.10" x2="403.20" y2="303.10" stroke="#3a3a3a" stroke-width="1"/>
<line x1="670.00" y1="303.10" x2="671.60" y2="303.10" stroke="#3a3a3a" stroke-width="1"/>
<text x="422.30" y="395.30" font-size="17" fill="#ff0000" color="#ff0000" text-anchor="start" font-weight="normal" font-style="normal" >d</text>
<text x="430.65" y="399.70" font-size="11" fill="#ff0000" color="#ff0000" text-anchor="start" font-weight="normal" font-style="normal" >1</text>
<text x="495.30" y="377.30" font-size="17" fill="#ff0000" color="#ff0000" text-anchor="start" font-weight="normal" font-style="normal" >d</text>
<text x="504.75" y="381.70" font-size="11" fill="#ff0000" color="#ff0000" text-anchor="start" font-weight="normal" font-style="normal" >2</text>
<text x="643.10" y="308.80" font-size="17" fill="#ff0000" color="#ff0000" text-anchor="start" font-weight="normal" font-style="normal" >d</text>
<text x="652.55" y="313.20" font-size="11" fill="#ff0000" color="#ff0000" text-anchor="start" font-weight="normal" font-style="normal" >3</text>
<text x="657.40" y="396.85" font-size="12.8" fill="#000" color="#000" text-anchor="start" font-weight="normal" font-style="italic" >&#946;</text>
<text x="0" y="0" font-size="14" font-style="italic" text-anchor="middle" transform="translate(366.45,351.10) rotate(-90)">U</text>
<text x="339.00" y="309.00" font-size="20" fill="#000" color="#000" text-anchor="start" font-weight="bold" font-style="normal" >d</text>
<text x="411.10" y="309.60" font-size="16" fill="#ff0000" color="#ff0000"><tspan font-style="italic">&#947;</tspan>=1.6, <tspan font-style="normal">n</tspan>=74</text>
<defs><linearGradient id="spk" x1="0" y1="0" x2="0" y2="1"><stop offset="0" stop-color="#e0d0d0" stop-opacity="0.8"/><stop offset="0.3" stop-color="#b8ac8a"/><stop offset="0.45" stop-color="#8a9258"/><stop offset="0.56" stop-color="#3e6442"/><stop offset="0.67" stop-color="#1c2674"/><stop offset="0.84" stop-color="#100c3a"/><stop offset="1" stop-color="#2c2434"/></linearGradient></defs>
<line x1="69.60" y1="185.30" x2="14.60" y2="231.90" stroke="#dcdcdc" stroke-width="1.0"/>
<line x1="69.60" y1="185.30" x2="123.20" y2="232.30" stroke="#dcdcdc" stroke-width="1.0"/>
<line x1="69.60" y1="147.00" x2="69.60" y2="185.30" stroke="#b8b8b8" stroke-width="1.0"/>
<line x1="14.60" y1="193.60" x2="14.60" y2="231.90" stroke="#bdbdbd" stroke-width="1.0"/>
<line x1="123.20" y1="194.00" x2="123.20" y2="232.30" stroke="#c4c4c4" stroke-width="1.0"/>
<line x1="68.20" y1="240.60" x2="68.20" y2="278.90" stroke="#d0d0d0" stroke-width="1.3"/>
<line x1="14.60" y1="231.90" x2="68.20" y2="278.90" stroke="#9a9a9a" stroke-width="1.0"/>
<line x1="123.20" y1="232.30" x2="68.20" y2="278.90" stroke="#9a9a9a" stroke-width="1.0"/>
<line x1="69.60" y1="147.00" x2="14.60" y2="193.60" stroke="#8c8c8c" stroke-width="1.0"/>
<line x1="69.60" y1="147.00" x2="123.20" y2="194.00" stroke="#8c8c8c" stroke-width="1.0"/>
<line x1="14.60" y1="193.60" x2="68.20" y2="240.60" stroke="#858585" stroke-width="1.0"/>
<line x1="123.20" y1="194.00" x2="68.20" y2="240.60" stroke="#858585" stroke-width="1.0"/>
<path d="M65.85,195.15l0.7,-0.3M68.31,203.52l0.7,-0.3M65.71,202.87l0.7,-0.3M65.04,200.61l0.7,-0.3M66.98,199.00l0.7,-0.3M69.58,199.65l0.7,-0.3M70.25,201.91l0.7,-0.3M61.13,209.49l0.7,-0.3M62.41,205.62l0.7,-0.3M63.07,207.88l0.7,-0.3M77.94,205.93l0.7,-0.3M75.34,205.28l0.7,-0.3M74.68,203.02l0.7,-0.3M70.77,211.90l0.7,-0.3M68.16,211.25l0.7,-0.3M67.50,208.99l0.7,-0.3M69.44,207.38l0.7,-0.3M72.04,208.02l0.7,-0.3M72.70,210.29l0.7,-0.3M63.59,217.87l0.7,-0.3M60.99,217.22l0.7,-0.3M60.32,214.96l0.7,-0.3M62.26,213.34l0.7,-0.3M64.86,213.99l0.7,-0.3M65.53,216.25l0.7,-0.3M56.41,223.84l0.7,-0.3M57.69,219.96l0.7,-0.3M58.35,222.22l0.7,-0.3M80.40,214.30l0.7,-0.3M77.80,213.65l0.7,-0.3M77.13,211.39l0.7,-0.3M79.07,209.78l0.7,-0.3M81.67,210.43l0.7,-0.3M82.34,212.69l0.7,-0.3M73.22,220.27l0.7,-0.3M70.62,219.62l0.7,-0.3M69.96,217.36l0.7,-0.3M71.90,215.75l0.7,-0.3M74.50,216.40l0.7,-0.3M75.16,218.66l0.7,-0.3M66.05,226.24l0.7,-0.3M63.45,225.59l0.7,-0.3M62.78,223.33l0.7,-0.3M64.72,221.72l0.7,-0.3M67.32,222.37l0.7,-0.3M67.98,224.63l0.7,-0.3M58.87,232.21l0.7,-0.3M56.27,231.56l0.7,-0.3M55.61,229.30l0.7,-0.3M57.54,227.69l0.7,-0.3M60.14,228.34l0.7,-0.3M60.81,230.60l0.7,-0.3M51.69,238.18l0.7,-0.3M52.97,234.31l0.7,-0.3M53.63,236.57l0.7,-0.3M90.03,216.70l0.7,-0.3M87.43,216.06l0.7,-0.3M86.77,213.80l0.7,-0.3M82.86,222.67l0.7,-0.3M80.26,222.03l0.7,-0.3M79.59,219.76l0.7,-0.3M81.53,218.15l0.7,-0.3M84.13,218.80l0.7,-0.3M84.79,221.06l0.7,-0.3M75.68,228.64l0.7,-0.3M73.08,228.00l0.7,-0.3M72.42,225.73l0.7,-0.3M74.35,224.12l0.7,-0.3M76.95,224.77l0.7,-0.3M77.62,227.03l0.7,-0.3M68.50,234.61l0.7,-0.3M65.90,233.96l0.7,-0.3M65.24,231.70l0.7,-0.3M67.18,230.09l0.7,-0.3M69.78,230.74l0.7,-0.3M70.44,233.00l0.7,-0.3M61.33,240.58l0.7,-0.3M58.73,239.93l0.7,-0.3M58.06,237.67l0.7,-0.3M60.00,236.06l0.7,-0.3M62.60,236.71l0.7,-0.3M63.27,238.97l0.7,-0.3M54.15,246.55l0.7,-0.3M51.55,245.90l0.7,-0.3M50.89,243.64l0.7,-0.3M52.82,242.03l0.7,-0.3M55.43,242.68l0.7,-0.3M56.09,244.94l0.7,-0.3M48.25,248.65l0.7,-0.3M92.49,225.08l0.7,-0.3M89.89,224.43l0.7,-0.3M89.23,222.17l0.7,-0.3M91.16,220.56l0.7,-0.3M93.76,221.21l0.7,-0.3M94.43,223.47l0.7,-0.3M85.31,231.05l0.7,-0.3M82.71,230.40l0.7,-0.3M82.05,228.14l0.7,-0.3M83.99,226.53l0.7,-0.3M86.59,227.18l0.7,-0.3M87.25,229.44l0.7,-0.3M78.14,237.02l0.7,-0.3M75.54,236.37l0.7,-0.3M74.87,234.11l0.7,-0.3M76.81,232.50l0.7,-0.3M79.41,233.15l0.7,-0.3M80.08,235.41l0.7,-0.3M70.96,242.99l0.7,-0.3M68.36,242.34l0.7,-0.3M67.70,240.08l0.7,-0.3M69.63,238.47l0.7,-0.3M72.24,239.11l0.7,-0.3M72.90,241.38l0.7,-0.3M60.52,246.05l0.7,-0.3M62.46,244.44l0.7,-0.3M65.06,245.08l0.7,-0.3M102.12,227.48l0.7,-0.3M99.52,226.83l0.7,-0.3M98.86,224.57l0.7,-0.3M94.95,233.45l0.7,-0.3M92.35,232.80l0.7,-0.3M91.68,230.54l0.7,-0.3M93.62,228.93l0.7,-0.3M96.22,229.58l0.7,-0.3M96.88,231.84l0.7,-0.3M87.77,239.42l0.7,-0.3M85.17,238.77l0.7,-0.3M84.51,236.51l0.7,-0.3M86.44,234.90l0.7,-0.3M89.05,235.55l0.7,-0.3M89.71,237.81l0.7,-0.3M77.33,242.48l0.7,-0.3M79.27,240.87l0.7,-0.3M81.87,241.52l0.7,-0.3M104.58,235.86l0.7,-0.3M101.98,235.21l0.7,-0.3M101.32,232.95l0.7,-0.3M103.25,231.33l0.7,-0.3M105.86,231.98l0.7,-0.3M106.52,234.24l0.7,-0.3M94.14,238.92l0.7,-0.3M96.08,237.30l0.7,-0.3M98.68,237.95l0.7,-0.3M110.95,235.35l0.7,-0.3" stroke="#ff2525" stroke-width="1.1" stroke-linecap="round" fill="none" opacity="0.95"/>
<path d="M53.90,244.30L55.00,241.50L56.30,244.30ZM55.90,247.80L57.00,245.40L58.30,247.80Z" fill="#3a3a3a" stroke="#8a8a8a" stroke-width="0.35"/>
<path d="M48.40,210.40 L48.74,210.40 L49.11,215.97 L49.28,232.66 L49.62,241.94 L50.01,247.50 L46.78,247.50 L47.18,241.94 L47.52,232.66 L47.69,215.97 L48.06,210.40 Z" fill="url(#spk)"/>
<ellipse cx="48.10" cy="247.90" rx="2.55" ry="1.87" fill="#38323e"/>
<text x="25.30" y="198.80" font-size="17" fill="#0000ff" color="#0000ff" text-anchor="start" font-weight="normal" font-style="normal" >a</text>
<text x="33.75" y="203.20" font-size="11" fill="#0000ff" color="#0000ff" text-anchor="start" font-weight="normal" font-style="normal" >1</text>
<line x1="180.00" y1="185.30" x2="125.00" y2="231.90" stroke="#dcdcdc" stroke-width="1.0"/>
<line x1="180.00" y1="185.30" x2="233.60" y2="232.30" stroke="#dcdcdc" stroke-width="1.0"/>
<line x1="180.00" y1="147.00" x2="180.00" y2="185.30" stroke="#b8b8b8" stroke-width="1.0"/>
<line x1="125.00" y1="193.60" x2="125.00" y2="231.90" stroke="#bdbdbd" stroke-width="1.0"/>
<line x1="233.60" y1="194.00" x2="233.60" y2="232.30" stroke="#c4c4c4" stroke-width="1.0"/>
<line x1="178.60" y1="240.60" x2="178.60" y2="278.90" stroke="#d0d0d0" stroke-width="1.3"/>
<line x1="125.00" y1="231.90" x2="178.60" y2="278.90" stroke="#9a9a9a" stroke-width="1.0"/>
<line x1="233.60" y1="232.30" x2="178.60" y2="278.90" stroke="#9a9a9a" stroke-width="1.0"/>
<line x1="180.00" y1="147.00" x2="125.00" y2="193.60" stroke="#8c8c8c" stroke-width="1.0"/>
<line x1="180.00" y1="147.00" x2="233.60" y2="194.00" stroke="#8c8c8c" stroke-width="1.0"/>
<line x1="125.00" y1="193.60" x2="178.60" y2="240.60" stroke="#858585" stroke-width="1.0"/>
<line x1="233.60" y1="194.00" x2="178.60" y2="240.60" stroke="#858585" stroke-width="1.0"/>
<path d="M176.25,195.15l0.7,-0.3M178.71,203.52l0.7,-0.3M176.11,202.87l0.7,-0.3M175.44,200.61l0.7,-0.3M177.38,199.00l0.7,-0.3M179.98,199.65l0.7,-0.3M180.65,201.91l0.7,-0.3M171.53,209.49l0.7,-0.3M172.81,205.62l0.7,-0.3M173.47,207.88l0.7,-0.3M188.34,205.93l0.7,-0.3M185.74,205.28l0.7,-0.3M185.08,203.02l0.7,-0.3M181.17,211.90l0.7,-0.3M178.56,211.25l0.7,-0.3M177.90,208.99l0.7,-0.3M179.84,207.38l0.7,-0.3M182.44,208.02l0.7,-0.3M183.10,210.29l0.7,-0.3M173.99,217.87l0.7,-0.3M171.39,217.22l0.7,-0.3M170.72,214.96l0.7,-0.3M172.66,213.34l0.7,-0.3M175.26,213.99l0.7,-0.3M175.93,216.25l0.7,-0.3M166.81,223.84l0.7,-0.3M168.09,219.96l0.7,-0.3M168.75,222.22l0.7,-0.3M190.80,214.30l0.7,-0.3M188.20,213.65l0.7,-0.3M187.53,211.39l0.7,-0.3M189.47,209.78l0.7,-0.3M192.07,210.43l0.7,-0.3M192.74,212.69l0.7,-0.3M183.62,220.27l0.7,-0.3M181.02,219.62l0.7,-0.3M180.36,217.36l0.7,-0.3M182.30,215.75l0.7,-0.3M184.90,216.40l0.7,-0.3M185.56,218.66l0.7,-0.3M176.45,226.24l0.7,-0.3M173.85,225.59l0.7,-0.3M173.18,223.33l0.7,-0.3M175.12,221.72l0.7,-0.3M177.72,222.37l0.7,-0.3M178.38,224.63l0.7,-0.3M169.27,232.21l0.7,-0.3M166.67,231.56l0.7,-0.3M166.01,229.30l0.7,-0.3M167.94,227.69l0.7,-0.3M170.54,228.34l0.7,-0.3M171.21,230.60l0.7,-0.3M162.09,238.18l0.7,-0.3M163.37,234.31l0.7,-0.3M164.03,236.57l0.7,-0.3M200.43,216.70l0.7,-0.3M197.83,216.06l0.7,-0.3M197.17,213.80l0.7,-0.3M193.26,222.67l0.7,-0.3M190.66,222.03l0.7,-0.3M189.99,219.76l0.7,-0.3M191.93,218.15l0.7,-0.3M194.53,218.80l0.7,-0.3M195.19,221.06l0.7,-0.3M186.08,228.64l0.7,-0.3M183.48,228.00l0.7,-0.3M182.82,225.73l0.7,-0.3M184.75,224.12l0.7,-0.3M187.35,224.77l0.7,-0.3M188.02,227.03l0.7,-0.3M178.90,234.61l0.7,-0.3M176.30,233.96l0.7,-0.3M175.64,231.70l0.7,-0.3M177.58,230.09l0.7,-0.3M180.18,230.74l0.7,-0.3M180.84,233.00l0.7,-0.3M171.73,240.58l0.7,-0.3M169.13,239.93l0.7,-0.3M168.46,237.67l0.7,-0.3M170.40,236.06l0.7,-0.3M173.00,236.71l0.7,-0.3M173.67,238.97l0.7,-0.3M164.55,246.55l0.7,-0.3M161.95,245.90l0.7,-0.3M161.29,243.64l0.7,-0.3M163.22,242.03l0.7,-0.3M165.83,242.68l0.7,-0.3M166.49,244.94l0.7,-0.3M158.65,248.65l0.7,-0.3M202.89,225.08l0.7,-0.3M200.29,224.43l0.7,-0.3M199.63,222.17l0.7,-0.3M201.56,220.56l0.7,-0.3M204.16,221.21l0.7,-0.3M204.83,223.47l0.7,-0.3M195.71,231.05l0.7,-0.3M193.11,230.40l0.7,-0.3M192.45,228.14l0.7,-0.3M194.39,226.53l0.7,-0.3M196.99,227.18l0.7,-0.3M197.65,229.44l0.7,-0.3M188.54,237.02l0.7,-0.3M185.94,236.37l0.7,-0.3M185.27,234.11l0.7,-0.3M187.21,232.50l0.7,-0.3M189.81,233.15l0.7,-0.3M190.48,235.41l0.7,-0.3M181.36,242.99l0.7,-0.3M178.76,242.34l0.7,-0.3M178.10,240.08l0.7,-0.3M180.03,238.47l0.7,-0.3M182.64,239.11l0.7,-0.3M183.30,241.38l0.7,-0.3M170.92,246.05l0.7,-0.3M172.86,244.44l0.7,-0.3M175.46,245.08l0.7,-0.3M212.52,227.48l0.7,-0.3M209.92,226.83l0.7,-0.3M209.26,224.57l0.7,-0.3M205.35,233.45l0.7,-0.3M202.75,232.80l0.7,-0.3M202.08,230.54l0.7,-0.3M204.02,228.93l0.7,-0.3M206.62,229.58l0.7,-0.3M207.28,231.84l0.7,-0.3M198.17,239.42l0.7,-0.3M195.57,238.77l0.7,-0.3M194.91,236.51l0.7,-0.3M196.84,234.90l0.7,-0.3M199.45,235.55l0.7,-0.3M200.11,237.81l0.7,-0.3M187.73,242.48l0.7,-0.3M189.67,240.87l0.7,-0.3M192.27,241.52l0.7,-0.3M214.98,235.86l0.7,-0.3M212.38,235.21l0.7,-0.3M211.72,232.95l0.7,-0.3M213.65,231.33l0.7,-0.3M216.26,231.98l0.7,-0.3M216.92,234.24l0.7,-0.3M204.54,238.92l0.7,-0.3M206.48,237.30l0.7,-0.3M209.08,237.95l0.7,-0.3M221.35,235.35l0.7,-0.3" stroke="#ff2525" stroke-width="1.1" stroke-linecap="round" fill="none" opacity="0.95"/>
<path d="M164.30,244.30L165.40,241.50L166.70,244.30ZM166.30,247.80L167.40,245.40L168.70,247.80Z" fill="#3a3a3a" stroke="#8a8a8a" stroke-width="0.35"/>
<path d="M158.80,210.40 L159.14,210.40 L159.51,215.97 L159.68,232.66 L160.02,241.94 L160.42,247.50 L157.19,247.50 L157.58,241.94 L157.92,232.66 L158.09,215.97 L158.46,210.40 Z" fill="url(#spk)"/>
<ellipse cx="158.50" cy="247.90" rx="2.55" ry="1.87" fill="#38323e"/>
<text x="135.70" y="198.80" font-size="17" fill="#0000ff" color="#0000ff" text-anchor="start" font-weight="normal" font-style="normal" >a</text>
<text x="145.15" y="203.20" font-size="11" fill="#0000ff" color="#0000ff" text-anchor="start" font-weight="normal" font-style="normal" >2</text>
<line x1="290.40" y1="185.30" x2="235.40" y2="231.90" stroke="#dcdcdc" stroke-width="1.0"/>
<line x1="290.40" y1="185.30" x2="344.00" y2="232.30" stroke="#dcdcdc" stroke-width="1.0"/>
<line x1="290.40" y1="147.00" x2="290.40" y2="185.30" stroke="#b8b8b8" stroke-width="1.0"/>
<line x1="235.40" y1="193.60" x2="235.40" y2="231.90" stroke="#bdbdbd" stroke-width="1.0"/>
<line x1="344.00" y1="194.00" x2="344.00" y2="232.30" stroke="#c4c4c4" stroke-width="1.0"/>
<line x1="289.00" y1="240.60" x2="289.00" y2="278.90" stroke="#d0d0d0" stroke-width="1.3"/>
<line x1="235.40" y1="231.90" x2="289.00" y2="278.90" stroke="#9a9a9a" stroke-width="1.0"/>
<line x1="344.00" y1="232.30" x2="289.00" y2="278.90" stroke="#9a9a9a" stroke-width="1.0"/>
<line x1="290.40" y1="147.00" x2="235.40" y2="193.60" stroke="#8c8c8c" stroke-width="1.0"/>
<line x1="290.40" y1="147.00" x2="344.00" y2="194.00" stroke="#8c8c8c" stroke-width="1.0"/>
<line x1="235.40" y1="193.60" x2="289.00" y2="240.60" stroke="#858585" stroke-width="1.0"/>
<line x1="344.00" y1="194.00" x2="289.00" y2="240.60" stroke="#858585" stroke-width="1.0"/>
<path d="M286.65,195.15l0.7,-0.3M289.11,203.52l0.7,-0.3M286.51,202.87l0.7,-0.3M285.84,200.61l0.7,-0.3M287.78,199.00l0.7,-0.3M290.38,199.65l0.7,-0.3M291.05,201.91l0.7,-0.3M281.93,209.49l0.7,-0.3M283.21,205.62l0.7,-0.3M283.87,207.88l0.7,-0.3M298.74,205.93l0.7,-0.3M296.14,205.28l0.7,-0.3M295.48,203.02l0.7,-0.3M291.57,211.90l0.7,-0.3M288.96,211.25l0.7,-0.3M288.30,208.99l0.7,-0.3M290.24,207.38l0.7,-0.3M292.84,208.02l0.7,-0.3M293.50,210.29l0.7,-0.3M284.39,217.87l0.7,-0.3M281.79,217.22l0.7,-0.3M281.12,214.96l0.7,-0.3M283.06,213.34l0.7,-0.3M285.66,213.99l0.7,-0.3M286.33,216.25l0.7,-0.3M277.21,223.84l0.7,-0.3M278.49,219.96l0.7,-0.3M279.15,222.22l0.7,-0.3M301.20,214.30l0.7,-0.3M303.14,212.69l0.7,-0.3M294.02,220.27l0.7,-0.3M295.96,218.66l0.7,-0.3M286.85,226.24l0.7,-0.3M288.78,224.63l0.7,-0.3M279.67,232.21l0.7,-0.3M281.61,230.60l0.7,-0.3M272.49,238.18l0.7,-0.3M273.77,234.31l0.7,-0.3M274.43,236.57l0.7,-0.3M310.83,216.70l0.7,-0.3M307.57,213.80l0.7,-0.3M303.66,222.67l0.7,-0.3M305.59,221.06l0.7,-0.3M296.48,228.64l0.7,-0.3M298.42,227.03l0.7,-0.3M289.30,234.61l0.7,-0.3M291.24,233.00l0.7,-0.3M282.13,240.58l0.7,-0.3M279.53,239.93l0.7,-0.3M284.07,238.97l0.7,-0.3M274.95,246.55l0.7,-0.3M272.35,245.90l0.7,-0.3M271.69,243.64l0.7,-0.3M276.23,242.68l0.7,-0.3M276.89,244.94l0.7,-0.3M269.05,248.65l0.7,-0.3M313.29,225.08l0.7,-0.3M310.03,222.17l0.7,-0.3M311.96,220.56l0.7,-0.3M315.23,223.47l0.7,-0.3M306.11,231.05l0.7,-0.3M304.79,226.53l0.7,-0.3M308.05,229.44l0.7,-0.3M298.94,237.02l0.7,-0.3M300.88,235.41l0.7,-0.3M291.76,242.99l0.7,-0.3M293.70,241.38l0.7,-0.3M281.32,246.05l0.7,-0.3M283.26,244.44l0.7,-0.3M285.86,245.08l0.7,-0.3M322.92,227.48l0.7,-0.3M320.32,226.83l0.7,-0.3M319.66,224.57l0.7,-0.3M315.75,233.45l0.7,-0.3M313.15,232.80l0.7,-0.3M312.48,230.54l0.7,-0.3M314.42,228.93l0.7,-0.3M317.02,229.58l0.7,-0.3M317.68,231.84l0.7,-0.3M308.57,239.42l0.7,-0.3M305.97,238.77l0.7,-0.3M305.31,236.51l0.7,-0.3M307.24,234.90l0.7,-0.3M309.85,235.55l0.7,-0.3M310.51,237.81l0.7,-0.3M298.13,242.48l0.7,-0.3M300.07,240.87l0.7,-0.3M302.67,241.52l0.7,-0.3M325.38,235.86l0.7,-0.3M322.78,235.21l0.7,-0.3M322.12,232.95l0.7,-0.3M324.05,231.33l0.7,-0.3M326.66,231.98l0.7,-0.3M327.32,234.24l0.7,-0.3M314.94,238.92l0.7,-0.3M316.88,237.30l0.7,-0.3M319.48,237.95l0.7,-0.3M331.75,235.35l0.7,-0.3" stroke="#ff2525" stroke-width="1.1" stroke-linecap="round" fill="none" opacity="0.95"/>
<path d="M279.20,231.30l0.8,-0.3M282.77,228.37l0.8,-0.3M286.34,225.44l0.8,-0.3M289.91,222.51l0.8,-0.3M293.49,219.59l0.8,-0.3M297.06,216.66l0.8,-0.3M300.63,213.73l0.8,-0.3M304.20,210.80l0.8,-0.3M274.80,242.90l0.8,-0.3M278.36,240.23l0.8,-0.3M281.92,237.56l0.8,-0.3M285.48,234.89l0.8,-0.3M289.04,232.22l0.8,-0.3M292.60,229.55l0.8,-0.3M296.16,226.88l0.8,-0.3M299.72,224.21l0.8,-0.3M303.28,221.54l0.8,-0.3M306.84,218.87l0.8,-0.3M310.40,216.20l0.8,-0.3M290.80,242.00l0.8,-0.3M294.37,239.20l0.8,-0.3M297.94,236.40l0.8,-0.3M301.51,233.60l0.8,-0.3M305.09,230.80l0.8,-0.3M308.66,228.00l0.8,-0.3M312.23,225.20l0.8,-0.3M315.80,222.40l0.8,-0.3" stroke="#9a9a9a" stroke-width="1.0" stroke-linecap="round" fill="none"/>
<path d="M276.90,231.10L277.90,226.90L279.10,231.10ZM280.47,228.17L281.47,223.97L282.67,228.17ZM284.04,225.24L285.04,221.04L286.24,225.24ZM287.61,222.31L288.61,218.11L289.81,222.31ZM291.19,219.39L292.19,215.19L293.39,219.39ZM294.76,216.46L295.76,212.26L296.96,216.46ZM298.33,213.53L299.33,209.33L300.53,213.53ZM301.90,210.60L302.90,206.40L304.10,210.60ZM272.50,242.70L273.50,238.50L274.70,242.70ZM276.06,240.03L277.06,235.83L278.26,240.03ZM279.62,237.36L280.62,233.16L281.82,237.36ZM283.18,234.69L284.18,230.49L285.38,234.69ZM286.74,232.02L287.74,227.82L288.94,232.02ZM290.30,229.35L291.30,225.15L292.50,229.35ZM293.86,226.68L294.86,222.48L296.06,226.68ZM297.42,224.01L298.42,219.81L299.62,224.01ZM300.98,221.34L301.98,217.14L303.18,221.34ZM304.54,218.67L305.54,214.47L306.74,218.67ZM308.10,216.00L309.10,211.80L310.30,216.00ZM288.50,241.80L289.50,237.60L290.70,241.80ZM292.07,239.00L293.07,234.80L294.27,239.00ZM295.64,236.20L296.64,232.00L297.84,236.20ZM299.21,233.40L300.21,229.20L301.41,233.40ZM302.79,230.60L303.79,226.40L304.99,230.60ZM306.36,227.80L307.36,223.60L308.56,227.80ZM309.93,225.00L310.93,220.80L312.13,225.00ZM313.50,222.20L314.50,218.00L315.70,222.20ZM272.40,245.30L273.50,238.00L274.80,245.30ZM275.60,242.80L276.70,236.50L278.00,242.80ZM278.80,240.30L279.90,235.00L281.20,240.30Z" fill="#3a3a3a" stroke="#8a8a8a" stroke-width="0.35"/>
<path d="M269.20,210.40 L269.54,210.40 L269.91,215.97 L270.08,232.66 L270.42,241.94 L270.81,247.50 L267.58,247.50 L267.98,241.94 L268.32,232.66 L268.49,215.97 L268.86,210.40 Z" fill="url(#spk)"/>
<ellipse cx="268.90" cy="247.90" rx="2.55" ry="1.87" fill="#38323e"/>
<text x="246.10" y="198.80" font-size="17" fill="#0000ff" color="#0000ff" text-anchor="start" font-weight="normal" font-style="normal" >a</text>
<text x="255.55" y="203.20" font-size="11" fill="#0000ff" color="#0000ff" text-anchor="start" font-weight="normal" font-style="normal" >3</text>
<line x1="400.60" y1="185.30" x2="345.60" y2="231.90" stroke="#dcdcdc" stroke-width="1.0"/>
<line x1="400.60" y1="185.30" x2="454.20" y2="232.30" stroke="#dcdcdc" stroke-width="1.0"/>
<line x1="400.60" y1="147.00" x2="400.60" y2="185.30" stroke="#b8b8b8" stroke-width="1.0"/>
<line x1="345.60" y1="193.60" x2="345.60" y2="231.90" stroke="#bdbdbd" stroke-width="1.0"/>
<line x1="454.20" y1="194.00" x2="454.20" y2="232.30" stroke="#c4c4c4" stroke-width="1.0"/>
<line x1="399.20" y1="240.60" x2="399.20" y2="278.90" stroke="#d0d0d0" stroke-width="1.3"/>
<line x1="345.60" y1="231.90" x2="399.20" y2="278.90" stroke="#9a9a9a" stroke-width="1.0"/>
<line x1="454.20" y1="232.30" x2="399.20" y2="278.90" stroke="#9a9a9a" stroke-width="1.0"/>
<line x1="400.60" y1="147.00" x2="345.60" y2="193.60" stroke="#8c8c8c" stroke-width="1.0"/>
<line x1="400.60" y1="147.00" x2="454.20" y2="194.00" stroke="#8c8c8c" stroke-width="1.0"/>
<line x1="345.60" y1="193.60" x2="399.20" y2="240.60" stroke="#858585" stroke-width="1.0"/>
<line x1="454.20" y1="194.00" x2="399.20" y2="240.60" stroke="#858585" stroke-width="1.0"/>
<path d="M399.31,203.52l0.7,-0.3M396.71,202.87l0.7,-0.3M400.58,199.65l0.7,-0.3M401.25,201.91l0.7,-0.3M392.13,209.49l0.7,-0.3M393.41,205.62l0.7,-0.3M394.07,207.88l0.7,-0.3M408.94,205.93l0.7,-0.3M406.34,205.28l0.7,-0.3M405.68,203.02l0.7,-0.3M401.77,211.90l0.7,-0.3M399.16,211.25l0.7,-0.3M398.50,208.99l0.7,-0.3M400.44,207.38l0.7,-0.3M403.04,208.02l0.7,-0.3M403.70,210.29l0.7,-0.3M394.59,217.87l0.7,-0.3M391.99,217.22l0.7,-0.3M391.32,214.96l0.7,-0.3M393.26,213.34l0.7,-0.3M395.86,213.99l0.7,-0.3M396.53,216.25l0.7,-0.3M387.41,223.84l0.7,-0.3M388.69,219.96l0.7,-0.3M389.35,222.22l0.7,-0.3M411.40,214.30l0.7,-0.3M408.80,213.65l0.7,-0.3M408.13,211.39l0.7,-0.3M410.07,209.78l0.7,-0.3M412.67,210.43l0.7,-0.3M413.34,212.69l0.7,-0.3M404.22,220.27l0.7,-0.3M401.62,219.62l0.7,-0.3M400.96,217.36l0.7,-0.3M402.90,215.75l0.7,-0.3M405.50,216.40l0.7,-0.3M406.16,218.66l0.7,-0.3M397.05,226.24l0.7,-0.3M394.45,225.59l0.7,-0.3M393.78,223.33l0.7,-0.3M395.72,221.72l0.7,-0.3M398.32,222.37l0.7,-0.3M398.98,224.63l0.7,-0.3M389.87,232.21l0.7,-0.3M387.27,231.56l0.7,-0.3M386.61,229.30l0.7,-0.3M388.54,227.69l0.7,-0.3M391.14,228.34l0.7,-0.3M391.81,230.60l0.7,-0.3M382.69,238.18l0.7,-0.3M383.97,234.31l0.7,-0.3M384.63,236.57l0.7,-0.3M421.03,216.70l0.7,-0.3M418.43,216.06l0.7,-0.3M417.77,213.80l0.7,-0.3M413.86,222.67l0.7,-0.3M411.26,222.03l0.7,-0.3M410.59,219.76l0.7,-0.3M412.53,218.15l0.7,-0.3M415.13,218.80l0.7,-0.3M415.79,221.06l0.7,-0.3M406.68,228.64l0.7,-0.3M404.08,228.00l0.7,-0.3M403.42,225.73l0.7,-0.3M405.35,224.12l0.7,-0.3M407.95,224.77l0.7,-0.3M408.62,227.03l0.7,-0.3M399.50,234.61l0.7,-0.3M396.90,233.96l0.7,-0.3M396.24,231.70l0.7,-0.3M398.18,230.09l0.7,-0.3M400.78,230.74l0.7,-0.3M401.44,233.00l0.7,-0.3M392.33,240.58l0.7,-0.3M389.73,239.93l0.7,-0.3M389.06,237.67l0.7,-0.3M391.00,236.06l0.7,-0.3M393.60,236.71l0.7,-0.3M394.27,238.97l0.7,-0.3M385.15,246.55l0.7,-0.3M382.55,245.90l0.7,-0.3M381.89,243.64l0.7,-0.3M383.82,242.03l0.7,-0.3M386.43,242.68l0.7,-0.3M387.09,244.94l0.7,-0.3M379.25,248.65l0.7,-0.3M423.49,225.08l0.7,-0.3M420.89,224.43l0.7,-0.3M420.23,222.17l0.7,-0.3M422.16,220.56l0.7,-0.3M424.76,221.21l0.7,-0.3M425.43,223.47l0.7,-0.3M416.31,231.05l0.7,-0.3M413.71,230.40l0.7,-0.3M413.05,228.14l0.7,-0.3M414.99,226.53l0.7,-0.3M417.59,227.18l0.7,-0.3M418.25,229.44l0.7,-0.3M409.14,237.02l0.7,-0.3M406.54,236.37l0.7,-0.3M405.87,234.11l0.7,-0.3M407.81,232.50l0.7,-0.3M410.41,233.15l0.7,-0.3M411.08,235.41l0.7,-0.3M401.96,242.99l0.7,-0.3M399.36,242.34l0.7,-0.3M398.70,240.08l0.7,-0.3M400.63,238.47l0.7,-0.3M403.24,239.11l0.7,-0.3M403.90,241.38l0.7,-0.3M391.52,246.05l0.7,-0.3M393.46,244.44l0.7,-0.3M396.06,245.08l0.7,-0.3M433.12,227.48l0.7,-0.3M430.52,226.83l0.7,-0.3M429.86,224.57l0.7,-0.3M425.95,233.45l0.7,-0.3M423.35,232.80l0.7,-0.3M422.68,230.54l0.7,-0.3M424.62,228.93l0.7,-0.3M427.22,229.58l0.7,-0.3M427.88,231.84l0.7,-0.3M418.77,239.42l0.7,-0.3M416.17,238.77l0.7,-0.3M415.51,236.51l0.7,-0.3M417.44,234.90l0.7,-0.3M420.05,235.55l0.7,-0.3M420.71,237.81l0.7,-0.3M408.33,242.48l0.7,-0.3M410.27,240.87l0.7,-0.3M412.87,241.52l0.7,-0.3M435.58,235.86l0.7,-0.3M432.98,235.21l0.7,-0.3M432.32,232.95l0.7,-0.3M434.25,231.33l0.7,-0.3M436.86,231.98l0.7,-0.3M437.52,234.24l0.7,-0.3M425.14,238.92l0.7,-0.3M427.08,237.30l0.7,-0.3M429.68,237.95l0.7,-0.3M441.95,235.35l0.7,-0.3" stroke="#ff2525" stroke-width="1.1" stroke-linecap="round" fill="none" opacity="0.95"/>
<path d="M394.10,205.80L395.20,202.50L396.50,205.80ZM397.40,203.30L398.50,200.50L399.80,203.30Z" fill="#3a3a3a" stroke="#8a8a8a" stroke-width="0.35"/>
<path d="M394.10,167.40 L394.44,167.40 L394.81,173.49 L394.98,191.76 L395.32,201.91 L395.72,208.00 L392.49,208.00 L392.88,201.91 L393.22,191.76 L393.39,173.49 L393.76,167.40 Z" fill="url(#spk)"/>
<ellipse cx="393.80" cy="208.40" rx="2.55" ry="1.87" fill="#38323e"/>
<text x="356.70" y="198.80" font-size="17" fill="#0000ff" color="#0000ff" text-anchor="start" font-weight="normal" font-style="normal" >b</text>
<text x="365.15" y="203.20" font-size="11" fill="#0000ff" color="#0000ff" text-anchor="start" font-weight="normal" font-style="normal" >1</text>
<line x1="511.40" y1="185.30" x2="456.40" y2="231.90" stroke="#dcdcdc" stroke-width="1.0"/>
<line x1="511.40" y1="185.30" x2="565.00" y2="232.30" stroke="#dcdcdc" stroke-width="1.0"/>
<line x1="511.40" y1="147.00" x2="511.40" y2="185.30" stroke="#b8b8b8" stroke-width="1.0"/>
<line x1="456.40" y1="193.60" x2="456.40" y2="231.90" stroke="#bdbdbd" stroke-width="1.0"/>
<line x1="565.00" y1="194.00" x2="565.00" y2="232.30" stroke="#c4c4c4" stroke-width="1.0"/>
<line x1="510.00" y1="240.60" x2="510.00" y2="278.90" stroke="#d0d0d0" stroke-width="1.3"/>
<line x1="456.40" y1="231.90" x2="510.00" y2="278.90" stroke="#9a9a9a" stroke-width="1.0"/>
<line x1="565.00" y1="232.30" x2="510.00" y2="278.90" stroke="#9a9a9a" stroke-width="1.0"/>
<line x1="511.40" y1="147.00" x2="456.40" y2="193.60" stroke="#8c8c8c" stroke-width="1.0"/>
<line x1="511.40" y1="147.00" x2="565.00" y2="194.00" stroke="#8c8c8c" stroke-width="1.0"/>
<line x1="456.40" y1="193.60" x2="510.00" y2="240.60" stroke="#858585" stroke-width="1.0"/>
<line x1="565.00" y1="194.00" x2="510.00" y2="240.60" stroke="#858585" stroke-width="1.0"/>
<path d="M502.93,209.49l0.7,-0.3M504.21,205.62l0.7,-0.3M504.87,207.88l0.7,-0.3M519.74,205.93l0.7,-0.3M517.14,205.28l0.7,-0.3M516.48,203.02l0.7,-0.3M512.57,211.90l0.7,-0.3M509.96,211.25l0.7,-0.3M509.30,208.99l0.7,-0.3M511.24,207.38l0.7,-0.3M513.84,208.02l0.7,-0.3M514.50,210.29l0.7,-0.3M505.39,217.87l0.7,-0.3M502.79,217.22l0.7,-0.3M502.12,214.96l0.7,-0.3M504.06,213.34l0.7,-0.3M506.66,213.99l0.7,-0.3M507.33,216.25l0.7,-0.3M498.21,223.84l0.7,-0.3M499.49,219.96l0.7,-0.3M500.15,222.22l0.7,-0.3M522.20,214.30l0.7,-0.3M519.60,213.65l0.7,-0.3M518.93,211.39l0.7,-0.3M520.87,209.78l0.7,-0.3M523.47,210.43l0.7,-0.3M524.14,212.69l0.7,-0.3M515.02,220.27l0.7,-0.3M512.42,219.62l0.7,-0.3M511.76,217.36l0.7,-0.3M513.70,215.75l0.7,-0.3M516.30,216.40l0.7,-0.3M516.96,218.66l0.7,-0.3M507.85,226.24l0.7,-0.3M505.25,225.59l0.7,-0.3M504.58,223.33l0.7,-0.3M506.52,221.72l0.7,-0.3M509.12,222.37l0.7,-0.3M509.78,224.63l0.7,-0.3M500.67,232.21l0.7,-0.3M498.07,231.56l0.7,-0.3M497.41,229.30l0.7,-0.3M499.34,227.69l0.7,-0.3M501.94,228.34l0.7,-0.3M502.61,230.60l0.7,-0.3M493.49,238.18l0.7,-0.3M494.77,234.31l0.7,-0.3M495.43,236.57l0.7,-0.3M531.83,216.70l0.7,-0.3M529.23,216.06l0.7,-0.3M528.57,213.80l0.7,-0.3M524.66,222.67l0.7,-0.3M522.06,222.03l0.7,-0.3M521.39,219.76l0.7,-0.3M523.33,218.15l0.7,-0.3M525.93,218.80l0.7,-0.3M526.59,221.06l0.7,-0.3M517.48,228.64l0.7,-0.3M514.88,228.00l0.7,-0.3M514.22,225.73l0.7,-0.3M516.15,224.12l0.7,-0.3M518.75,224.77l0.7,-0.3M519.42,227.03l0.7,-0.3M510.30,234.61l0.7,-0.3M507.70,233.96l0.7,-0.3M507.04,231.70l0.7,-0.3M508.98,230.09l0.7,-0.3M511.58,230.74l0.7,-0.3M512.24,233.00l0.7,-0.3M503.13,240.58l0.7,-0.3M500.53,239.93l0.7,-0.3M499.86,237.67l0.7,-0.3M501.80,236.06l0.7,-0.3M504.40,236.71l0.7,-0.3M505.07,238.97l0.7,-0.3M495.95,246.55l0.7,-0.3M493.35,245.90l0.7,-0.3M492.69,243.64l0.7,-0.3M494.62,242.03l0.7,-0.3M497.23,242.68l0.7,-0.3M497.89,244.94l0.7,-0.3M490.05,248.65l0.7,-0.3M534.29,225.08l0.7,-0.3M531.69,224.43l0.7,-0.3M531.03,222.17l0.7,-0.3M532.96,220.56l0.7,-0.3M535.56,221.21l0.7,-0.3M536.23,223.47l0.7,-0.3M527.11,231.05l0.7,-0.3M524.51,230.40l0.7,-0.3M523.85,228.14l0.7,-0.3M525.79,226.53l0.7,-0.3M528.39,227.18l0.7,-0.3M529.05,229.44l0.7,-0.3M519.94,237.02l0.7,-0.3M517.34,236.37l0.7,-0.3M516.67,234.11l0.7,-0.3M518.61,232.50l0.7,-0.3M521.21,233.15l0.7,-0.3M521.88,235.41l0.7,-0.3M512.76,242.99l0.7,-0.3M510.16,242.34l0.7,-0.3M509.50,240.08l0.7,-0.3M511.43,238.47l0.7,-0.3M514.04,239.11l0.7,-0.3M514.70,241.38l0.7,-0.3M502.32,246.05l0.7,-0.3M504.26,244.44l0.7,-0.3M506.86,245.08l0.7,-0.3M543.92,227.48l0.7,-0.3M541.32,226.83l0.7,-0.3M540.66,224.57l0.7,-0.3M536.75,233.45l0.7,-0.3M534.15,232.80l0.7,-0.3M533.48,230.54l0.7,-0.3M535.42,228.93l0.7,-0.3M538.02,229.58l0.7,-0.3M538.68,231.84l0.7,-0.3M529.57,239.42l0.7,-0.3M526.97,238.77l0.7,-0.3M526.31,236.51l0.7,-0.3M528.24,234.90l0.7,-0.3M530.85,235.55l0.7,-0.3M531.51,237.81l0.7,-0.3M519.13,242.48l0.7,-0.3M521.07,240.87l0.7,-0.3M523.67,241.52l0.7,-0.3M546.38,235.86l0.7,-0.3M543.78,235.21l0.7,-0.3M543.12,232.95l0.7,-0.3M545.05,231.33l0.7,-0.3M547.66,231.98l0.7,-0.3M548.32,234.24l0.7,-0.3M535.94,238.92l0.7,-0.3M537.88,237.30l0.7,-0.3M540.48,237.95l0.7,-0.3M552.75,235.35l0.7,-0.3" stroke="#ff2525" stroke-width="1.1" stroke-linecap="round" fill="none" opacity="0.95"/>
<path d="M510.50,199.80L511.60,196.00L512.90,199.80ZM507.30,204.30L508.40,201.00L509.70,204.30ZM505.00,205.30L506.10,202.50L507.40,205.30Z" fill="#3a3a3a" stroke="#8a8a8a" stroke-width="0.35"/>
<path d="M504.40,168.00 L504.76,168.00 L505.16,173.85 L505.34,191.40 L505.70,201.15 L506.11,207.00 L502.69,207.00 L503.10,201.15 L503.46,191.40 L503.64,173.85 L504.04,168.00 Z" fill="url(#spk)"/>
<ellipse cx="504.10" cy="207.40" rx="2.70" ry="1.98" fill="#38323e"/>
<path d="M505.60,183.00 L505.86,183.00 L506.15,186.30 L506.28,196.20 L506.54,201.70 L506.83,205.00 L504.36,205.00 L504.66,201.70 L504.92,196.20 L505.05,186.30 L505.34,183.00 Z" fill="url(#spk)"/>
<ellipse cx="505.30" cy="205.40" rx="1.95" ry="1.43" fill="#38323e"/>
<path d="M508.40,170.50 L508.68,170.50 L508.99,173.88 L509.13,184.00 L509.41,189.62 L509.73,193.00 L507.07,193.00 L507.39,189.62 L507.67,184.00 L507.81,173.88 L508.12,170.50 Z" fill="url(#spk)"/>
<ellipse cx="508.10" cy="193.40" rx="2.10" ry="1.54" fill="#38323e"/>
<text x="467.50" y="198.80" font-size="17" fill="#0000ff" color="#0000ff" text-anchor="start" font-weight="normal" font-style="normal" >b</text>
<text x="476.95" y="203.20" font-size="11" fill="#0000ff" color="#0000ff" text-anchor="start" font-weight="normal" font-style="normal" >2</text>
<line x1="622.00" y1="185.30" x2="567.00" y2="231.90" stroke="#dcdcdc" stroke-width="1.0"/>
<line x1="622.00" y1="185.30" x2="675.60" y2="232.30" stroke="#dcdcdc" stroke-width="1.0"/>
<line x1="622.00" y1="147.00" x2="622.00" y2="185.30" stroke="#b8b8b8" stroke-width="1.0"/>
<line x1="567.00" y1="193.60" x2="567.00" y2="231.90" stroke="#bdbdbd" stroke-width="1.0"/>
<line x1="675.60" y1="194.00" x2="675.60" y2="232.30" stroke="#c4c4c4" stroke-width="1.0"/>
<line x1="620.60" y1="240.60" x2="620.60" y2="278.90" stroke="#d0d0d0" stroke-width="1.3"/>
<line x1="567.00" y1="231.90" x2="620.60" y2="278.90" stroke="#9a9a9a" stroke-width="1.0"/>
<line x1="675.60" y1="232.30" x2="620.60" y2="278.90" stroke="#9a9a9a" stroke-width="1.0"/>
<line x1="622.00" y1="147.00" x2="567.00" y2="193.60" stroke="#8c8c8c" stroke-width="1.0"/>
<line x1="622.00" y1="147.00" x2="675.60" y2="194.00" stroke="#8c8c8c" stroke-width="1.0"/>
<line x1="567.00" y1="193.60" x2="620.60" y2="240.60" stroke="#858585" stroke-width="1.0"/>
<line x1="675.60" y1="194.00" x2="620.60" y2="240.60" stroke="#858585" stroke-width="1.0"/>
<path d="M613.53,209.49l0.7,-0.3M614.81,205.62l0.7,-0.3M615.47,207.88l0.7,-0.3M630.34,205.93l0.7,-0.3M627.74,205.28l0.7,-0.3M627.08,203.02l0.7,-0.3M623.17,211.90l0.7,-0.3M620.56,211.25l0.7,-0.3M619.90,208.99l0.7,-0.3M621.84,207.38l0.7,-0.3M624.44,208.02l0.7,-0.3M625.10,210.29l0.7,-0.3M615.99,217.87l0.7,-0.3M613.39,217.22l0.7,-0.3M612.72,214.96l0.7,-0.3M614.66,213.34l0.7,-0.3M617.26,213.99l0.7,-0.3M617.93,216.25l0.7,-0.3M608.81,223.84l0.7,-0.3M610.09,219.96l0.7,-0.3M610.75,222.22l0.7,-0.3M632.80,214.30l0.7,-0.3M634.74,212.69l0.7,-0.3M625.62,220.27l0.7,-0.3M627.56,218.66l0.7,-0.3M618.45,226.24l0.7,-0.3M620.38,224.63l0.7,-0.3M611.27,232.21l0.7,-0.3M608.67,231.56l0.7,-0.3M608.01,229.30l0.7,-0.3M609.94,227.69l0.7,-0.3M612.54,228.34l0.7,-0.3M613.21,230.60l0.7,-0.3M604.09,238.18l0.7,-0.3M605.37,234.31l0.7,-0.3M606.03,236.57l0.7,-0.3M642.43,216.70l0.7,-0.3M639.17,213.80l0.7,-0.3M635.26,222.67l0.7,-0.3M631.99,219.76l0.7,-0.3M633.93,218.15l0.7,-0.3M637.19,221.06l0.7,-0.3M628.08,228.64l0.7,-0.3M624.82,225.73l0.7,-0.3M626.75,224.12l0.7,-0.3M630.02,227.03l0.7,-0.3M620.90,234.61l0.7,-0.3M617.64,231.70l0.7,-0.3M619.58,230.09l0.7,-0.3M622.84,233.00l0.7,-0.3M613.73,240.58l0.7,-0.3M611.13,239.93l0.7,-0.3M610.46,237.67l0.7,-0.3M612.40,236.06l0.7,-0.3M615.00,236.71l0.7,-0.3M615.67,238.97l0.7,-0.3M606.55,246.55l0.7,-0.3M603.95,245.90l0.7,-0.3M603.29,243.64l0.7,-0.3M605.22,242.03l0.7,-0.3M607.83,242.68l0.7,-0.3M608.49,244.94l0.7,-0.3M600.65,248.65l0.7,-0.3M644.89,225.08l0.7,-0.3M646.83,223.47l0.7,-0.3M637.71,231.05l0.7,-0.3M639.65,229.44l0.7,-0.3M630.54,237.02l0.7,-0.3M632.48,235.41l0.7,-0.3M623.36,242.99l0.7,-0.3M620.76,242.34l0.7,-0.3M620.10,240.08l0.7,-0.3M622.03,238.47l0.7,-0.3M624.64,239.11l0.7,-0.3M625.30,241.38l0.7,-0.3M612.92,246.05l0.7,-0.3M614.86,244.44l0.7,-0.3M617.46,245.08l0.7,-0.3M654.52,227.48l0.7,-0.3M651.92,226.83l0.7,-0.3M651.26,224.57l0.7,-0.3M647.35,233.45l0.7,-0.3M644.75,232.80l0.7,-0.3M644.08,230.54l0.7,-0.3M646.02,228.93l0.7,-0.3M648.62,229.58l0.7,-0.3M649.28,231.84l0.7,-0.3M640.17,239.42l0.7,-0.3M637.57,238.77l0.7,-0.3M636.91,236.51l0.7,-0.3M638.84,234.90l0.7,-0.3M641.45,235.55l0.7,-0.3M642.11,237.81l0.7,-0.3M629.73,242.48l0.7,-0.3M631.67,240.87l0.7,-0.3M634.27,241.52l0.7,-0.3M656.98,235.86l0.7,-0.3M654.38,235.21l0.7,-0.3M653.72,232.95l0.7,-0.3M655.65,231.33l0.7,-0.3M658.26,231.98l0.7,-0.3M658.92,234.24l0.7,-0.3M646.54,238.92l0.7,-0.3M648.48,237.30l0.7,-0.3M651.08,237.95l0.7,-0.3M663.35,235.35l0.7,-0.3" stroke="#ff2525" stroke-width="1.1" stroke-linecap="round" fill="none" opacity="0.95"/>
<path d="M617.20,226.10l0.8,-0.3M620.84,223.10l0.8,-0.3M624.48,220.10l0.8,-0.3M628.12,217.10l0.8,-0.3M631.76,214.10l0.8,-0.3M635.40,211.10l0.8,-0.3M620.50,234.10l0.8,-0.3M624.01,231.20l0.8,-0.3M627.53,228.30l0.8,-0.3M631.04,225.40l0.8,-0.3M634.56,222.50l0.8,-0.3M638.07,219.60l0.8,-0.3M641.59,216.70l0.8,-0.3M645.10,213.80l0.8,-0.3M630.10,236.30l0.8,-0.3M633.52,233.40l0.8,-0.3M636.94,230.50l0.8,-0.3M640.36,227.60l0.8,-0.3M643.78,224.70l0.8,-0.3M647.20,221.80l0.8,-0.3" stroke="#9a9a9a" stroke-width="1.0" stroke-linecap="round" fill="none"/>
<path d="M614.90,225.90L615.90,222.90L617.10,225.90ZM618.54,222.90L619.54,219.90L620.74,222.90ZM622.18,219.90L623.18,216.90L624.38,219.90ZM625.82,216.90L626.82,213.90L628.02,216.90ZM629.46,213.90L630.46,210.90L631.66,213.90ZM633.10,210.90L634.10,207.90L635.30,210.90ZM618.20,233.90L619.20,230.90L620.40,233.90ZM621.71,231.00L622.71,228.00L623.91,231.00ZM625.23,228.10L626.23,225.10L627.43,228.10ZM628.74,225.20L629.74,222.20L630.94,225.20ZM632.26,222.30L633.26,219.30L634.46,222.30ZM635.77,219.40L636.77,216.40L637.97,219.40ZM639.29,216.50L640.29,213.50L641.49,216.50ZM642.80,213.60L643.80,210.60L645.00,213.60ZM627.80,236.10L628.80,233.10L630.00,236.10ZM631.22,233.20L632.22,230.20L633.42,233.20ZM634.64,230.30L635.64,227.30L636.84,230.30ZM638.06,227.40L639.06,224.40L640.26,227.40ZM641.48,224.50L642.48,221.50L643.68,224.50ZM644.90,221.60L645.90,218.60L647.10,221.60ZM621.10,199.80L622.20,196.00L623.50,199.80ZM617.90,204.30L619.00,201.00L620.30,204.30ZM615.60,205.30L616.70,202.50L618.00,205.30Z" fill="#858585" stroke="#8a8a8a" stroke-width="0.35"/>
<path d="M614.40,168.00 L614.76,168.00 L615.16,173.85 L615.34,191.40 L615.70,201.15 L616.11,207.00 L612.69,207.00 L613.10,201.15 L613.46,191.40 L613.64,173.85 L614.04,168.00 Z" fill="url(#spk)"/>
<ellipse cx="614.10" cy="207.40" rx="2.70" ry="1.98" fill="#38323e"/>
<path d="M615.70,183.00 L615.96,183.00 L616.25,186.30 L616.38,196.20 L616.64,201.70 L616.94,205.00 L614.47,205.00 L614.76,201.70 L615.02,196.20 L615.15,186.30 L615.44,183.00 Z" fill="url(#spk)"/>
<ellipse cx="615.40" cy="205.40" rx="1.95" ry="1.43" fill="#38323e"/>
<path d="M619.00,168.00 L619.28,168.00 L619.59,171.75 L619.73,183.00 L620.01,189.25 L620.33,193.00 L617.67,193.00 L617.99,189.25 L618.27,183.00 L618.41,171.75 L618.72,168.00 Z" fill="url(#spk)"/>
<ellipse cx="618.70" cy="193.40" rx="2.10" ry="1.54" fill="#38323e"/>
<path d="M622.40,192.00 L622.60,192.00 L622.82,192.90 L622.92,195.60 L623.12,197.10 L623.35,198.00 L621.45,198.00 L621.68,197.10 L621.88,195.60 L621.98,192.90 L622.20,192.00 Z" fill="url(#spk)"/>
<ellipse cx="622.10" cy="198.40" rx="1.50" ry="1.10" fill="#38323e"/>
<text x="578.10" y="198.80" font-size="17" fill="#0000ff" color="#0000ff" text-anchor="start" font-weight="normal" font-style="normal" >b</text>
<text x="587.55" y="203.20" font-size="11" fill="#0000ff" color="#0000ff" text-anchor="start" font-weight="normal" font-style="normal" >3</text>
<line x1="70.00" y1="467.30" x2="15.00" y2="513.90" stroke="#dcdcdc" stroke-width="1.0"/>
<line x1="70.00" y1="467.30" x2="123.60" y2="514.30" stroke="#dcdcdc" stroke-width="1.0"/>
<line x1="70.00" y1="429.00" x2="70.00" y2="467.30" stroke="#b8b8b8" stroke-width="1.0"/>
<line x1="15.00" y1="475.60" x2="15.00" y2="513.90" stroke="#bdbdbd" stroke-width="1.0"/>
<line x1="123.60" y1="476.00" x2="123.60" y2="514.30" stroke="#c4c4c4" stroke-width="1.0"/>
<line x1="68.60" y1="522.60" x2="68.60" y2="560.90" stroke="#d0d0d0" stroke-width="1.3"/>
<line x1="15.00" y1="513.90" x2="68.60" y2="560.90" stroke="#9a9a9a" stroke-width="1.0"/>
<line x1="123.60" y1="514.30" x2="68.60" y2="560.90" stroke="#9a9a9a" stroke-width="1.0"/>
<line x1="70.00" y1="429.00" x2="15.00" y2="475.60" stroke="#8c8c8c" stroke-width="1.0"/>
<line x1="70.00" y1="429.00" x2="123.60" y2="476.00" stroke="#8c8c8c" stroke-width="1.0"/>
<line x1="15.00" y1="475.60" x2="68.60" y2="522.60" stroke="#858585" stroke-width="1.0"/>
<line x1="123.60" y1="476.00" x2="68.60" y2="522.60" stroke="#858585" stroke-width="1.0"/>
<path d="M66.25,477.15l0.7,-0.3M68.78,485.78l0.7,-0.3M65.01,484.84l0.7,-0.3M64.05,481.56l0.7,-0.3M66.86,479.22l0.7,-0.3M70.63,480.16l0.7,-0.3M71.59,483.44l0.7,-0.3M61.39,491.93l0.7,-0.3M63.24,486.31l0.7,-0.3M64.20,489.59l0.7,-0.3M78.71,488.25l0.7,-0.3M74.94,487.31l0.7,-0.3M73.97,484.04l0.7,-0.3M71.31,494.41l0.7,-0.3M67.54,493.46l0.7,-0.3M66.58,490.19l0.7,-0.3M69.39,487.85l0.7,-0.3M73.16,488.79l0.7,-0.3M74.12,492.07l0.7,-0.3M63.92,500.56l0.7,-0.3M60.15,499.62l0.7,-0.3M59.19,496.34l0.7,-0.3M62.00,494.00l0.7,-0.3M65.77,494.94l0.7,-0.3M66.73,498.22l0.7,-0.3M56.53,506.71l0.7,-0.3M58.37,501.09l0.7,-0.3M59.34,504.37l0.7,-0.3M81.24,496.88l0.7,-0.3M77.47,495.94l0.7,-0.3M76.51,492.66l0.7,-0.3M79.32,490.33l0.7,-0.3M83.09,491.27l0.7,-0.3M84.05,494.55l0.7,-0.3M73.85,503.03l0.7,-0.3M70.07,502.09l0.7,-0.3M69.11,498.81l0.7,-0.3M71.92,496.48l0.7,-0.3M75.69,497.42l0.7,-0.3M76.66,500.70l0.7,-0.3M66.45,509.18l0.7,-0.3M62.68,508.24l0.7,-0.3M61.72,504.97l0.7,-0.3M64.53,502.63l0.7,-0.3M68.30,503.57l0.7,-0.3M69.26,506.85l0.7,-0.3M59.06,515.34l0.7,-0.3M55.29,514.39l0.7,-0.3M54.32,511.12l0.7,-0.3M57.13,508.78l0.7,-0.3M60.91,509.72l0.7,-0.3M61.87,513.00l0.7,-0.3M51.66,521.49l0.7,-0.3M53.51,515.87l0.7,-0.3M54.47,519.15l0.7,-0.3M91.17,499.36l0.7,-0.3M87.40,498.42l0.7,-0.3M86.43,495.14l0.7,-0.3M83.77,505.51l0.7,-0.3M80.00,504.57l0.7,-0.3M79.04,501.29l0.7,-0.3M81.85,498.95l0.7,-0.3M85.62,499.89l0.7,-0.3M86.58,503.17l0.7,-0.3M76.38,511.66l0.7,-0.3M72.61,510.72l0.7,-0.3M71.64,507.44l0.7,-0.3M74.45,505.10l0.7,-0.3M78.23,506.05l0.7,-0.3M79.19,509.32l0.7,-0.3M68.98,517.81l0.7,-0.3M65.21,516.87l0.7,-0.3M64.25,513.59l0.7,-0.3M67.06,511.26l0.7,-0.3M70.83,512.20l0.7,-0.3M71.79,515.48l0.7,-0.3M61.59,523.96l0.7,-0.3M57.82,523.02l0.7,-0.3M56.86,519.74l0.7,-0.3M59.67,517.41l0.7,-0.3M63.44,518.35l0.7,-0.3M64.40,521.63l0.7,-0.3M54.20,530.12l0.7,-0.3M50.42,529.17l0.7,-0.3M49.46,525.90l0.7,-0.3M52.27,523.56l0.7,-0.3M56.04,524.50l0.7,-0.3M57.01,527.78l0.7,-0.3M48.65,530.65l0.7,-0.3M93.70,507.99l0.7,-0.3M89.93,507.05l0.7,-0.3M88.97,503.77l0.7,-0.3M91.77,501.43l0.7,-0.3M95.55,502.37l0.7,-0.3M96.51,505.65l0.7,-0.3M86.31,514.14l0.7,-0.3M82.53,513.20l0.7,-0.3M81.57,509.92l0.7,-0.3M84.38,507.58l0.7,-0.3M88.15,508.52l0.7,-0.3M89.12,511.80l0.7,-0.3M78.91,520.29l0.7,-0.3M75.14,519.35l0.7,-0.3M74.18,516.07l0.7,-0.3M76.99,513.73l0.7,-0.3M80.76,514.67l0.7,-0.3M81.72,517.95l0.7,-0.3M71.52,526.44l0.7,-0.3M67.75,525.50l0.7,-0.3M66.78,522.22l0.7,-0.3M69.59,519.88l0.7,-0.3M73.36,520.82l0.7,-0.3M74.33,524.10l0.7,-0.3M59.39,528.37l0.7,-0.3M62.20,526.03l0.7,-0.3M65.97,526.98l0.7,-0.3M103.63,510.46l0.7,-0.3M99.85,509.52l0.7,-0.3M98.89,506.25l0.7,-0.3M96.23,516.62l0.7,-0.3M92.46,515.67l0.7,-0.3M91.50,512.40l0.7,-0.3M94.31,510.06l0.7,-0.3M98.08,511.00l0.7,-0.3M99.04,514.28l0.7,-0.3M88.84,522.77l0.7,-0.3M85.07,521.83l0.7,-0.3M84.10,518.55l0.7,-0.3M86.91,516.21l0.7,-0.3M90.68,517.15l0.7,-0.3M91.65,520.43l0.7,-0.3M76.71,524.70l0.7,-0.3M79.52,522.36l0.7,-0.3M83.29,523.30l0.7,-0.3M106.16,519.09l0.7,-0.3M102.39,518.15l0.7,-0.3M101.42,514.87l0.7,-0.3M104.23,512.54l0.7,-0.3M108.01,513.48l0.7,-0.3M108.97,516.76l0.7,-0.3M94.03,521.02l0.7,-0.3M96.84,518.69l0.7,-0.3M100.61,519.63l0.7,-0.3M111.35,517.35l0.7,-0.3" stroke="#ff2525" stroke-width="1.1" stroke-linecap="round" fill="none" opacity="0.95"/>
<path d="M77.30,489.80L78.40,486.00L79.70,489.80ZM84.70,496.30L85.80,492.50L87.10,496.30Z" fill="#3a3a3a" stroke="#8a8a8a" stroke-width="0.35"/>
<path d="M82.90,454.00 L83.22,454.00 L83.57,459.60 L83.73,476.38 L84.05,485.70 L84.42,491.30 L81.38,491.30 L81.75,485.70 L82.07,476.38 L82.23,459.60 L82.58,454.00 Z" fill="url(#spk)"/>
<ellipse cx="82.60" cy="491.70" rx="2.40" ry="1.76" fill="#38323e"/>
<text x="26.50" y="480.80" font-size="17" fill="#ff0000" color="#ff0000" text-anchor="start" font-weight="normal" font-style="normal" >c</text>
<text x="34.00" y="485.20" font-size="11" fill="#ff0000" color="#ff0000" text-anchor="start" font-weight="normal" font-style="normal" >1</text>
<line x1="181.50" y1="467.30" x2="126.50" y2="513.90" stroke="#dcdcdc" stroke-width="1.0"/>
<line x1="181.50" y1="467.30" x2="235.10" y2="514.30" stroke="#dcdcdc" stroke-width="1.0"/>
<line x1="181.50" y1="429.00" x2="181.50" y2="467.30" stroke="#b8b8b8" stroke-width="1.0"/>
<line x1="126.50" y1="475.60" x2="126.50" y2="513.90" stroke="#bdbdbd" stroke-width="1.0"/>
<line x1="235.10" y1="476.00" x2="235.10" y2="514.30" stroke="#c4c4c4" stroke-width="1.0"/>
<line x1="180.10" y1="522.60" x2="180.10" y2="560.90" stroke="#d0d0d0" stroke-width="1.3"/>
<line x1="126.50" y1="513.90" x2="180.10" y2="560.90" stroke="#9a9a9a" stroke-width="1.0"/>
<line x1="235.10" y1="514.30" x2="180.10" y2="560.90" stroke="#9a9a9a" stroke-width="1.0"/>
<line x1="181.50" y1="429.00" x2="126.50" y2="475.60" stroke="#8c8c8c" stroke-width="1.0"/>
<line x1="181.50" y1="429.00" x2="235.10" y2="476.00" stroke="#8c8c8c" stroke-width="1.0"/>
<line x1="126.50" y1="475.60" x2="180.10" y2="522.60" stroke="#858585" stroke-width="1.0"/>
<line x1="235.10" y1="476.00" x2="180.10" y2="522.60" stroke="#858585" stroke-width="1.0"/>
<path d="M177.75,477.15l0.7,-0.3M180.28,485.78l0.7,-0.3M176.51,484.84l0.7,-0.3M175.55,481.56l0.7,-0.3M178.36,479.22l0.7,-0.3M182.13,480.16l0.7,-0.3M183.09,483.44l0.7,-0.3M172.89,491.93l0.7,-0.3M174.74,486.31l0.7,-0.3M175.70,489.59l0.7,-0.3M190.21,488.25l0.7,-0.3M186.44,487.31l0.7,-0.3M185.47,484.04l0.7,-0.3M182.81,494.41l0.7,-0.3M179.04,493.46l0.7,-0.3M178.08,490.19l0.7,-0.3M180.89,487.85l0.7,-0.3M184.66,488.79l0.7,-0.3M185.62,492.07l0.7,-0.3M175.42,500.56l0.7,-0.3M171.65,499.62l0.7,-0.3M170.69,496.34l0.7,-0.3M173.50,494.00l0.7,-0.3M177.27,494.94l0.7,-0.3M178.23,498.22l0.7,-0.3M168.03,506.71l0.7,-0.3M169.87,501.09l0.7,-0.3M170.84,504.37l0.7,-0.3M192.74,496.88l0.7,-0.3M188.97,495.94l0.7,-0.3M188.01,492.66l0.7,-0.3M190.82,490.33l0.7,-0.3M194.59,491.27l0.7,-0.3M195.55,494.55l0.7,-0.3M185.35,503.03l0.7,-0.3M181.57,502.09l0.7,-0.3M180.61,498.81l0.7,-0.3M183.42,496.48l0.7,-0.3M187.19,497.42l0.7,-0.3M188.16,500.70l0.7,-0.3M177.95,509.18l0.7,-0.3M174.18,508.24l0.7,-0.3M173.22,504.97l0.7,-0.3M176.03,502.63l0.7,-0.3M179.80,503.57l0.7,-0.3M180.76,506.85l0.7,-0.3M170.56,515.34l0.7,-0.3M166.79,514.39l0.7,-0.3M165.82,511.12l0.7,-0.3M168.63,508.78l0.7,-0.3M172.41,509.72l0.7,-0.3M173.37,513.00l0.7,-0.3M163.16,521.49l0.7,-0.3M165.01,515.87l0.7,-0.3M165.97,519.15l0.7,-0.3M202.67,499.36l0.7,-0.3M198.90,498.42l0.7,-0.3M197.93,495.14l0.7,-0.3M195.27,505.51l0.7,-0.3M191.50,504.57l0.7,-0.3M190.54,501.29l0.7,-0.3M193.35,498.95l0.7,-0.3M197.12,499.89l0.7,-0.3M198.08,503.17l0.7,-0.3M187.88,511.66l0.7,-0.3M184.11,510.72l0.7,-0.3M183.14,507.44l0.7,-0.3M185.95,505.10l0.7,-0.3M189.73,506.05l0.7,-0.3M190.69,509.32l0.7,-0.3M180.48,517.81l0.7,-0.3M176.71,516.87l0.7,-0.3M175.75,513.59l0.7,-0.3M178.56,511.26l0.7,-0.3M182.33,512.20l0.7,-0.3M183.29,515.48l0.7,-0.3M173.09,523.96l0.7,-0.3M169.32,523.02l0.7,-0.3M168.36,519.74l0.7,-0.3M171.17,517.41l0.7,-0.3M174.94,518.35l0.7,-0.3M175.90,521.63l0.7,-0.3M165.70,530.12l0.7,-0.3M161.92,529.17l0.7,-0.3M160.96,525.90l0.7,-0.3M163.77,523.56l0.7,-0.3M167.54,524.50l0.7,-0.3M168.51,527.78l0.7,-0.3M160.15,530.65l0.7,-0.3M205.20,507.99l0.7,-0.3M201.43,507.05l0.7,-0.3M200.47,503.77l0.7,-0.3M203.27,501.43l0.7,-0.3M207.05,502.37l0.7,-0.3M208.01,505.65l0.7,-0.3M197.81,514.14l0.7,-0.3M194.03,513.20l0.7,-0.3M193.07,509.92l0.7,-0.3M195.88,507.58l0.7,-0.3M199.65,508.52l0.7,-0.3M200.62,511.80l0.7,-0.3M190.41,520.29l0.7,-0.3M186.64,519.35l0.7,-0.3M185.68,516.07l0.7,-0.3M188.49,513.73l0.7,-0.3M192.26,514.67l0.7,-0.3M193.22,517.95l0.7,-0.3M183.02,526.44l0.7,-0.3M179.25,525.50l0.7,-0.3M178.28,522.22l0.7,-0.3M181.09,519.88l0.7,-0.3M184.86,520.82l0.7,-0.3M185.83,524.10l0.7,-0.3M170.89,528.37l0.7,-0.3M173.70,526.03l0.7,-0.3M177.47,526.98l0.7,-0.3M215.13,510.46l0.7,-0.3M211.35,509.52l0.7,-0.3M210.39,506.25l0.7,-0.3M207.73,516.62l0.7,-0.3M203.96,515.67l0.7,-0.3M203.00,512.40l0.7,-0.3M205.81,510.06l0.7,-0.3M209.58,511.00l0.7,-0.3M210.54,514.28l0.7,-0.3M200.34,522.77l0.7,-0.3M196.57,521.83l0.7,-0.3M195.60,518.55l0.7,-0.3M198.41,516.21l0.7,-0.3M202.18,517.15l0.7,-0.3M203.15,520.43l0.7,-0.3M188.21,524.70l0.7,-0.3M191.02,522.36l0.7,-0.3M194.79,523.30l0.7,-0.3M217.66,519.09l0.7,-0.3M213.89,518.15l0.7,-0.3M212.92,514.87l0.7,-0.3M215.73,512.54l0.7,-0.3M219.51,513.48l0.7,-0.3M220.47,516.76l0.7,-0.3M205.53,521.02l0.7,-0.3M208.34,518.69l0.7,-0.3M212.11,519.63l0.7,-0.3M222.85,517.35l0.7,-0.3" stroke="#ff2525" stroke-width="1.1" stroke-linecap="round" fill="none" opacity="0.95"/>
<path d="M188.80,489.80L189.90,486.00L191.20,489.80ZM196.20,496.30L197.30,492.50L198.60,496.30Z" fill="#3a3a3a" stroke="#8a8a8a" stroke-width="0.35"/>
<path d="M194.40,454.00 L194.72,454.00 L195.07,459.60 L195.23,476.38 L195.55,485.70 L195.92,491.30 L192.88,491.30 L193.25,485.70 L193.57,476.38 L193.73,459.60 L194.08,454.00 Z" fill="url(#spk)"/>
<ellipse cx="194.10" cy="491.70" rx="2.40" ry="1.76" fill="#38323e"/>
<text x="138.00" y="480.80" font-size="17" fill="#ff0000" color="#ff0000" text-anchor="start" font-weight="normal" font-style="normal" >c</text>
<text x="146.50" y="485.20" font-size="11" fill="#ff0000" color="#ff0000" text-anchor="start" font-weight="normal" font-style="normal" >2</text>
<line x1="293.50" y1="467.30" x2="238.50" y2="513.90" stroke="#dcdcdc" stroke-width="1.0"/>
<line x1="293.50" y1="467.30" x2="347.10" y2="514.30" stroke="#dcdcdc" stroke-width="1.0"/>
<line x1="293.50" y1="429.00" x2="293.50" y2="467.30" stroke="#b8b8b8" stroke-width="1.0"/>
<line x1="238.50" y1="475.60" x2="238.50" y2="513.90" stroke="#bdbdbd" stroke-width="1.0"/>
<line x1="347.10" y1="476.00" x2="347.10" y2="514.30" stroke="#c4c4c4" stroke-width="1.0"/>
<line x1="292.10" y1="522.60" x2="292.10" y2="560.90" stroke="#d0d0d0" stroke-width="1.3"/>
<line x1="238.50" y1="513.90" x2="292.10" y2="560.90" stroke="#9a9a9a" stroke-width="1.0"/>
<line x1="347.10" y1="514.30" x2="292.10" y2="560.90" stroke="#9a9a9a" stroke-width="1.0"/>
<line x1="293.50" y1="429.00" x2="238.50" y2="475.60" stroke="#8c8c8c" stroke-width="1.0"/>
<line x1="293.50" y1="429.00" x2="347.10" y2="476.00" stroke="#8c8c8c" stroke-width="1.0"/>
<line x1="238.50" y1="475.60" x2="292.10" y2="522.60" stroke="#858585" stroke-width="1.0"/>
<line x1="347.10" y1="476.00" x2="292.10" y2="522.60" stroke="#858585" stroke-width="1.0"/>
<path d="M289.75,477.15l0.7,-0.3M292.28,485.78l0.7,-0.3M288.51,484.84l0.7,-0.3M287.55,481.56l0.7,-0.3M290.36,479.22l0.7,-0.3M294.13,480.16l0.7,-0.3M295.09,483.44l0.7,-0.3M284.89,491.93l0.7,-0.3M286.74,486.31l0.7,-0.3M287.70,489.59l0.7,-0.3M298.44,487.31l0.7,-0.3M297.47,484.04l0.7,-0.3M291.04,493.46l0.7,-0.3M290.08,490.19l0.7,-0.3M292.89,487.85l0.7,-0.3M296.66,488.79l0.7,-0.3M283.65,499.62l0.7,-0.3M282.69,496.34l0.7,-0.3M285.50,494.00l0.7,-0.3M289.27,494.94l0.7,-0.3M280.03,506.71l0.7,-0.3M281.87,501.09l0.7,-0.3M282.84,504.37l0.7,-0.3M300.97,495.94l0.7,-0.3M306.59,491.27l0.7,-0.3M293.57,502.09l0.7,-0.3M299.19,497.42l0.7,-0.3M286.18,508.24l0.7,-0.3M285.22,504.97l0.7,-0.3M288.03,502.63l0.7,-0.3M291.80,503.57l0.7,-0.3M278.79,514.39l0.7,-0.3M277.82,511.12l0.7,-0.3M280.63,508.78l0.7,-0.3M284.41,509.72l0.7,-0.3M275.16,521.49l0.7,-0.3M277.01,515.87l0.7,-0.3M277.97,519.15l0.7,-0.3M310.90,498.42l0.7,-0.3M309.93,495.14l0.7,-0.3M303.50,504.57l0.7,-0.3M309.12,499.89l0.7,-0.3M296.11,510.72l0.7,-0.3M301.73,506.05l0.7,-0.3M288.71,516.87l0.7,-0.3M294.33,512.20l0.7,-0.3M285.09,523.96l0.7,-0.3M281.32,523.02l0.7,-0.3M280.36,519.74l0.7,-0.3M283.17,517.41l0.7,-0.3M286.94,518.35l0.7,-0.3M277.70,530.12l0.7,-0.3M273.92,529.17l0.7,-0.3M272.96,525.90l0.7,-0.3M275.77,523.56l0.7,-0.3M279.54,524.50l0.7,-0.3M280.51,527.78l0.7,-0.3M272.15,530.65l0.7,-0.3M313.43,507.05l0.7,-0.3M319.05,502.37l0.7,-0.3M320.01,505.65l0.7,-0.3M306.03,513.20l0.7,-0.3M311.65,508.52l0.7,-0.3M298.64,519.35l0.7,-0.3M304.26,514.67l0.7,-0.3M295.02,526.44l0.7,-0.3M291.25,525.50l0.7,-0.3M296.86,520.82l0.7,-0.3M297.83,524.10l0.7,-0.3M282.89,528.37l0.7,-0.3M285.70,526.03l0.7,-0.3M289.47,526.98l0.7,-0.3M327.13,510.46l0.7,-0.3M323.35,509.52l0.7,-0.3M322.39,506.25l0.7,-0.3M319.73,516.62l0.7,-0.3M315.96,515.67l0.7,-0.3M321.58,511.00l0.7,-0.3M322.54,514.28l0.7,-0.3M312.34,522.77l0.7,-0.3M308.57,521.83l0.7,-0.3M314.18,517.15l0.7,-0.3M315.15,520.43l0.7,-0.3M300.21,524.70l0.7,-0.3M306.79,523.30l0.7,-0.3M329.66,519.09l0.7,-0.3M325.89,518.15l0.7,-0.3M324.92,514.87l0.7,-0.3M327.73,512.54l0.7,-0.3M331.51,513.48l0.7,-0.3M332.47,516.76l0.7,-0.3M317.53,521.02l0.7,-0.3M320.34,518.69l0.7,-0.3M324.11,519.63l0.7,-0.3M334.85,517.35l0.7,-0.3" stroke="#ff2525" stroke-width="1.1" stroke-linecap="round" fill="none" opacity="0.95"/>
<path d="M288.80,501.50l0.8,-0.3M292.50,498.80l0.8,-0.3M296.20,496.10l0.8,-0.3M299.90,493.40l0.8,-0.3M303.60,490.70l0.8,-0.3M284.90,516.20l0.8,-0.3M288.40,513.26l0.8,-0.3M291.90,510.31l0.8,-0.3M295.40,507.37l0.8,-0.3M298.90,504.43l0.8,-0.3M302.40,501.49l0.8,-0.3M305.90,498.54l0.8,-0.3M309.40,495.60l0.8,-0.3M290.80,522.10l0.8,-0.3M294.11,519.40l0.8,-0.3M297.43,516.70l0.8,-0.3M300.74,514.00l0.8,-0.3M304.05,511.30l0.8,-0.3M307.36,508.60l0.8,-0.3M310.68,505.90l0.8,-0.3M313.99,503.20l0.8,-0.3M317.30,500.50l0.8,-0.3M303.60,522.10l0.8,-0.3M306.92,519.36l0.8,-0.3M310.24,516.62l0.8,-0.3M313.56,513.88l0.8,-0.3M316.88,511.14l0.8,-0.3M320.20,508.40l0.8,-0.3" stroke="#9a9a9a" stroke-width="1.0" stroke-linecap="round" fill="none"/>
<path d="M286.50,501.30L287.50,497.10L288.70,501.30ZM290.20,498.60L291.20,494.40L292.40,498.60ZM293.90,495.90L294.90,491.70L296.10,495.90ZM297.60,493.20L298.60,489.00L299.80,493.20ZM301.30,490.50L302.30,486.30L303.50,490.50ZM282.60,516.00L283.60,511.80L284.80,516.00ZM286.10,513.06L287.10,508.86L288.30,513.06ZM289.60,510.11L290.60,505.91L291.80,510.11ZM293.10,507.17L294.10,502.97L295.30,507.17ZM296.60,504.23L297.60,500.03L298.80,504.23ZM300.10,501.29L301.10,497.09L302.30,501.29ZM303.60,498.34L304.60,494.14L305.80,498.34ZM307.10,495.40L308.10,491.20L309.30,495.40ZM288.50,521.90L289.50,517.70L290.70,521.90ZM291.81,519.20L292.81,515.00L294.01,519.20ZM295.12,516.50L296.12,512.30L297.33,516.50ZM298.44,513.80L299.44,509.60L300.64,513.80ZM301.75,511.10L302.75,506.90L303.95,511.10ZM305.06,508.40L306.06,504.20L307.26,508.40ZM308.38,505.70L309.38,501.50L310.58,505.70ZM311.69,503.00L312.69,498.80L313.89,503.00ZM315.00,500.30L316.00,496.10L317.20,500.30ZM301.30,521.90L302.30,517.70L303.50,521.90ZM304.62,519.16L305.62,514.96L306.82,519.16ZM307.94,516.42L308.94,512.22L310.14,516.42ZM311.26,513.68L312.26,509.48L313.46,513.68ZM314.58,510.94L315.58,506.74L316.78,510.94ZM317.90,508.20L318.90,504.00L320.10,508.20Z" fill="#3a3a3a" stroke="#8a8a8a" stroke-width="0.35"/>
<path d="M306.40,454.00 L306.72,454.00 L307.07,459.60 L307.23,476.38 L307.55,485.70 L307.92,491.30 L304.88,491.30 L305.25,485.70 L305.57,476.38 L305.73,459.60 L306.08,454.00 Z" fill="url(#spk)"/>
<ellipse cx="306.10" cy="491.70" rx="2.40" ry="1.76" fill="#38323e"/>
<path d="M302.30,479.50 L302.58,479.50 L302.89,481.60 L303.03,487.90 L303.31,491.40 L303.63,493.50 L300.97,493.50 L301.29,491.40 L301.57,487.90 L301.71,481.60 L302.02,479.50 Z" fill="url(#spk)"/>
<ellipse cx="302.00" cy="493.90" rx="2.10" ry="1.54" fill="#38323e"/>
<path d="M310.00,486.50 L310.26,486.50 L310.55,487.85 L310.68,491.90 L310.94,494.15 L311.24,495.50 L308.76,495.50 L309.06,494.15 L309.32,491.90 L309.45,487.85 L309.74,486.50 Z" fill="url(#spk)"/>
<ellipse cx="309.70" cy="495.90" rx="1.95" ry="1.43" fill="#38323e"/>
<text x="250.00" y="480.80" font-size="17" fill="#ff0000" color="#ff0000" text-anchor="start" font-weight="normal" font-style="normal" >c</text>
<text x="258.50" y="485.20" font-size="11" fill="#ff0000" color="#ff0000" text-anchor="start" font-weight="normal" font-style="normal" >3</text>
<line x1="405.50" y1="467.30" x2="350.50" y2="513.90" stroke="#dcdcdc" stroke-width="1.0"/>
<line x1="405.50" y1="467.30" x2="459.10" y2="514.30" stroke="#dcdcdc" stroke-width="1.0"/>
<line x1="405.50" y1="429.00" x2="405.50" y2="467.30" stroke="#b8b8b8" stroke-width="1.0"/>
<line x1="350.50" y1="475.60" x2="350.50" y2="513.90" stroke="#bdbdbd" stroke-width="1.0"/>
<line x1="459.10" y1="476.00" x2="459.10" y2="514.30" stroke="#c4c4c4" stroke-width="1.0"/>
<line x1="404.10" y1="522.60" x2="404.10" y2="560.90" stroke="#d0d0d0" stroke-width="1.3"/>
<line x1="350.50" y1="513.90" x2="404.10" y2="560.90" stroke="#9a9a9a" stroke-width="1.0"/>
<line x1="459.10" y1="514.30" x2="404.10" y2="560.90" stroke="#9a9a9a" stroke-width="1.0"/>
<line x1="405.50" y1="429.00" x2="350.50" y2="475.60" stroke="#8c8c8c" stroke-width="1.0"/>
<line x1="405.50" y1="429.00" x2="459.10" y2="476.00" stroke="#8c8c8c" stroke-width="1.0"/>
<line x1="350.50" y1="475.60" x2="404.10" y2="522.60" stroke="#858585" stroke-width="1.0"/>
<line x1="459.10" y1="476.00" x2="404.10" y2="522.60" stroke="#858585" stroke-width="1.0"/>
<path d="M401.75,477.15l0.7,-0.3M404.28,485.78l0.7,-0.3M400.51,484.84l0.7,-0.3M399.55,481.56l0.7,-0.3M402.36,479.22l0.7,-0.3M406.13,480.16l0.7,-0.3M407.09,483.44l0.7,-0.3M396.89,491.93l0.7,-0.3M398.74,486.31l0.7,-0.3M399.70,489.59l0.7,-0.3M414.21,488.25l0.7,-0.3M410.44,487.31l0.7,-0.3M409.47,484.04l0.7,-0.3M406.81,494.41l0.7,-0.3M403.04,493.46l0.7,-0.3M402.08,490.19l0.7,-0.3M404.89,487.85l0.7,-0.3M408.66,488.79l0.7,-0.3M409.62,492.07l0.7,-0.3M399.42,500.56l0.7,-0.3M395.65,499.62l0.7,-0.3M394.69,496.34l0.7,-0.3M397.50,494.00l0.7,-0.3M401.27,494.94l0.7,-0.3M402.23,498.22l0.7,-0.3M392.03,506.71l0.7,-0.3M393.87,501.09l0.7,-0.3M394.84,504.37l0.7,-0.3M416.74,496.88l0.7,-0.3M412.97,495.94l0.7,-0.3M412.01,492.66l0.7,-0.3M414.82,490.33l0.7,-0.3M418.59,491.27l0.7,-0.3M419.55,494.55l0.7,-0.3M409.35,503.03l0.7,-0.3M405.57,502.09l0.7,-0.3M404.61,498.81l0.7,-0.3M407.42,496.48l0.7,-0.3M411.19,497.42l0.7,-0.3M412.16,500.70l0.7,-0.3M401.95,509.18l0.7,-0.3M398.18,508.24l0.7,-0.3M397.22,504.97l0.7,-0.3M400.03,502.63l0.7,-0.3M403.80,503.57l0.7,-0.3M404.76,506.85l0.7,-0.3M394.56,515.34l0.7,-0.3M390.79,514.39l0.7,-0.3M389.82,511.12l0.7,-0.3M392.63,508.78l0.7,-0.3M396.41,509.72l0.7,-0.3M397.37,513.00l0.7,-0.3M387.16,521.49l0.7,-0.3M389.01,515.87l0.7,-0.3M389.97,519.15l0.7,-0.3M426.67,499.36l0.7,-0.3M422.90,498.42l0.7,-0.3M421.93,495.14l0.7,-0.3M419.27,505.51l0.7,-0.3M415.50,504.57l0.7,-0.3M414.54,501.29l0.7,-0.3M417.35,498.95l0.7,-0.3M421.12,499.89l0.7,-0.3M422.08,503.17l0.7,-0.3M411.88,511.66l0.7,-0.3M408.11,510.72l0.7,-0.3M407.14,507.44l0.7,-0.3M409.95,505.10l0.7,-0.3M413.73,506.05l0.7,-0.3M414.69,509.32l0.7,-0.3M404.48,517.81l0.7,-0.3M400.71,516.87l0.7,-0.3M399.75,513.59l0.7,-0.3M402.56,511.26l0.7,-0.3M406.33,512.20l0.7,-0.3M407.29,515.48l0.7,-0.3M397.09,523.96l0.7,-0.3M393.32,523.02l0.7,-0.3M392.36,519.74l0.7,-0.3M395.17,517.41l0.7,-0.3M398.94,518.35l0.7,-0.3M399.90,521.63l0.7,-0.3M389.70,530.12l0.7,-0.3M385.92,529.17l0.7,-0.3M384.96,525.90l0.7,-0.3M387.77,523.56l0.7,-0.3M391.54,524.50l0.7,-0.3M392.51,527.78l0.7,-0.3M384.15,530.65l0.7,-0.3M429.20,507.99l0.7,-0.3M425.43,507.05l0.7,-0.3M424.47,503.77l0.7,-0.3M427.27,501.43l0.7,-0.3M431.05,502.37l0.7,-0.3M432.01,505.65l0.7,-0.3M421.81,514.14l0.7,-0.3M418.03,513.20l0.7,-0.3M417.07,509.92l0.7,-0.3M419.88,507.58l0.7,-0.3M423.65,508.52l0.7,-0.3M424.62,511.80l0.7,-0.3M414.41,520.29l0.7,-0.3M410.64,519.35l0.7,-0.3M409.68,516.07l0.7,-0.3M412.49,513.73l0.7,-0.3M416.26,514.67l0.7,-0.3M417.22,517.95l0.7,-0.3M407.02,526.44l0.7,-0.3M403.25,525.50l0.7,-0.3M402.28,522.22l0.7,-0.3M405.09,519.88l0.7,-0.3M408.86,520.82l0.7,-0.3M409.83,524.10l0.7,-0.3M394.89,528.37l0.7,-0.3M397.70,526.03l0.7,-0.3M401.47,526.98l0.7,-0.3M439.13,510.46l0.7,-0.3M435.35,509.52l0.7,-0.3M434.39,506.25l0.7,-0.3M431.73,516.62l0.7,-0.3M427.96,515.67l0.7,-0.3M427.00,512.40l0.7,-0.3M429.81,510.06l0.7,-0.3M433.58,511.00l0.7,-0.3M434.54,514.28l0.7,-0.3M424.34,522.77l0.7,-0.3M420.57,521.83l0.7,-0.3M419.60,518.55l0.7,-0.3M422.41,516.21l0.7,-0.3M426.18,517.15l0.7,-0.3M427.15,520.43l0.7,-0.3M412.21,524.70l0.7,-0.3M415.02,522.36l0.7,-0.3M418.79,523.30l0.7,-0.3M441.66,519.09l0.7,-0.3M437.89,518.15l0.7,-0.3M436.92,514.87l0.7,-0.3M439.73,512.54l0.7,-0.3M443.51,513.48l0.7,-0.3M444.47,516.76l0.7,-0.3M429.53,521.02l0.7,-0.3M432.34,518.69l0.7,-0.3M436.11,519.63l0.7,-0.3M446.85,517.35l0.7,-0.3" stroke="#ff2525" stroke-width="1.1" stroke-linecap="round" fill="none" opacity="0.95"/>
<path d="M393.90,528.30L395.00,524.00L396.30,528.30Z" fill="#3a3a3a" stroke="#8a8a8a" stroke-width="0.35"/>
<path d="M385.50,488.00 L385.85,488.00 L386.24,493.59 L386.41,510.38 L386.76,519.70 L387.16,525.30 L383.84,525.30 L384.24,519.70 L384.59,510.38 L384.76,493.59 L385.15,488.00 Z" fill="url(#spk)"/>
<ellipse cx="385.20" cy="525.70" rx="2.62" ry="1.93" fill="#38323e"/>
<path d="M390.20,492.00 L390.55,492.00 L390.94,497.59 L391.11,514.38 L391.46,523.70 L391.86,529.30 L388.54,529.30 L388.94,523.70 L389.29,514.38 L389.46,497.59 L389.85,492.00 Z" fill="url(#spk)"/>
<ellipse cx="389.90" cy="529.70" rx="2.62" ry="1.93" fill="#38323e"/>
<text x="362.60" y="480.80" font-size="17" fill="#ff0000" color="#ff0000" text-anchor="start" font-weight="normal" font-style="normal" >d</text>
<text x="371.05" y="485.20" font-size="11" fill="#ff0000" color="#ff0000" text-anchor="start" font-weight="normal" font-style="normal" >1</text>
<line x1="517.30" y1="467.30" x2="462.30" y2="513.90" stroke="#dcdcdc" stroke-width="1.0"/>
<line x1="517.30" y1="467.30" x2="570.90" y2="514.30" stroke="#dcdcdc" stroke-width="1.0"/>
<line x1="517.30" y1="429.00" x2="517.30" y2="467.30" stroke="#b8b8b8" stroke-width="1.0"/>
<line x1="462.30" y1="475.60" x2="462.30" y2="513.90" stroke="#bdbdbd" stroke-width="1.0"/>
<line x1="570.90" y1="476.00" x2="570.90" y2="514.30" stroke="#c4c4c4" stroke-width="1.0"/>
<line x1="515.90" y1="522.60" x2="515.90" y2="560.90" stroke="#d0d0d0" stroke-width="1.3"/>
<line x1="462.30" y1="513.90" x2="515.90" y2="560.90" stroke="#9a9a9a" stroke-width="1.0"/>
<line x1="570.90" y1="514.30" x2="515.90" y2="560.90" stroke="#9a9a9a" stroke-width="1.0"/>
<line x1="517.30" y1="429.00" x2="462.30" y2="475.60" stroke="#8c8c8c" stroke-width="1.0"/>
<line x1="517.30" y1="429.00" x2="570.90" y2="476.00" stroke="#8c8c8c" stroke-width="1.0"/>
<line x1="462.30" y1="475.60" x2="515.90" y2="522.60" stroke="#858585" stroke-width="1.0"/>
<line x1="570.90" y1="476.00" x2="515.90" y2="522.60" stroke="#858585" stroke-width="1.0"/>
<path d="M513.55,477.15l0.7,-0.3M516.08,485.78l0.7,-0.3M512.31,484.84l0.7,-0.3M511.35,481.56l0.7,-0.3M514.16,479.22l0.7,-0.3M517.93,480.16l0.7,-0.3M518.89,483.44l0.7,-0.3M508.69,491.93l0.7,-0.3M510.54,486.31l0.7,-0.3M511.50,489.59l0.7,-0.3M526.01,488.25l0.7,-0.3M522.24,487.31l0.7,-0.3M521.27,484.04l0.7,-0.3M518.61,494.41l0.7,-0.3M514.84,493.46l0.7,-0.3M513.88,490.19l0.7,-0.3M516.69,487.85l0.7,-0.3M520.46,488.79l0.7,-0.3M521.42,492.07l0.7,-0.3M511.22,500.56l0.7,-0.3M507.45,499.62l0.7,-0.3M506.49,496.34l0.7,-0.3M509.30,494.00l0.7,-0.3M513.07,494.94l0.7,-0.3M514.03,498.22l0.7,-0.3M503.83,506.71l0.7,-0.3M505.67,501.09l0.7,-0.3M506.64,504.37l0.7,-0.3M528.54,496.88l0.7,-0.3M524.77,495.94l0.7,-0.3M523.81,492.66l0.7,-0.3M526.62,490.33l0.7,-0.3M530.39,491.27l0.7,-0.3M531.35,494.55l0.7,-0.3M521.15,503.03l0.7,-0.3M517.37,502.09l0.7,-0.3M516.41,498.81l0.7,-0.3M519.22,496.48l0.7,-0.3M522.99,497.42l0.7,-0.3M523.96,500.70l0.7,-0.3M513.75,509.18l0.7,-0.3M509.98,508.24l0.7,-0.3M509.02,504.97l0.7,-0.3M511.83,502.63l0.7,-0.3M515.60,503.57l0.7,-0.3M516.56,506.85l0.7,-0.3M506.36,515.34l0.7,-0.3M502.59,514.39l0.7,-0.3M501.62,511.12l0.7,-0.3M504.43,508.78l0.7,-0.3M508.21,509.72l0.7,-0.3M509.17,513.00l0.7,-0.3M498.96,521.49l0.7,-0.3M500.81,515.87l0.7,-0.3M501.77,519.15l0.7,-0.3M538.47,499.36l0.7,-0.3M534.70,498.42l0.7,-0.3M533.73,495.14l0.7,-0.3M531.07,505.51l0.7,-0.3M527.30,504.57l0.7,-0.3M526.34,501.29l0.7,-0.3M529.15,498.95l0.7,-0.3M532.92,499.89l0.7,-0.3M533.88,503.17l0.7,-0.3M523.68,511.66l0.7,-0.3M519.91,510.72l0.7,-0.3M518.94,507.44l0.7,-0.3M521.75,505.10l0.7,-0.3M525.53,506.05l0.7,-0.3M526.49,509.32l0.7,-0.3M516.28,517.81l0.7,-0.3M512.51,516.87l0.7,-0.3M511.55,513.59l0.7,-0.3M514.36,511.26l0.7,-0.3M518.13,512.20l0.7,-0.3M519.09,515.48l0.7,-0.3M508.89,523.96l0.7,-0.3M505.12,523.02l0.7,-0.3M504.16,519.74l0.7,-0.3M506.97,517.41l0.7,-0.3M510.74,518.35l0.7,-0.3M511.70,521.63l0.7,-0.3M501.50,530.12l0.7,-0.3M497.72,529.17l0.7,-0.3M496.76,525.90l0.7,-0.3M499.57,523.56l0.7,-0.3M503.34,524.50l0.7,-0.3M504.31,527.78l0.7,-0.3M495.95,530.65l0.7,-0.3M541.00,507.99l0.7,-0.3M537.23,507.05l0.7,-0.3M536.27,503.77l0.7,-0.3M539.07,501.43l0.7,-0.3M542.85,502.37l0.7,-0.3M543.81,505.65l0.7,-0.3M533.61,514.14l0.7,-0.3M529.83,513.20l0.7,-0.3M528.87,509.92l0.7,-0.3M531.68,507.58l0.7,-0.3M535.45,508.52l0.7,-0.3M536.42,511.80l0.7,-0.3M526.21,520.29l0.7,-0.3M522.44,519.35l0.7,-0.3M521.48,516.07l0.7,-0.3M524.29,513.73l0.7,-0.3M528.06,514.67l0.7,-0.3M529.02,517.95l0.7,-0.3M518.82,526.44l0.7,-0.3M515.05,525.50l0.7,-0.3M514.08,522.22l0.7,-0.3M516.89,519.88l0.7,-0.3M520.66,520.82l0.7,-0.3M521.63,524.10l0.7,-0.3M506.69,528.37l0.7,-0.3M509.50,526.03l0.7,-0.3M513.27,526.98l0.7,-0.3M550.93,510.46l0.7,-0.3M547.15,509.52l0.7,-0.3M546.19,506.25l0.7,-0.3M543.53,516.62l0.7,-0.3M539.76,515.67l0.7,-0.3M538.80,512.40l0.7,-0.3M541.61,510.06l0.7,-0.3M545.38,511.00l0.7,-0.3M546.34,514.28l0.7,-0.3M536.14,522.77l0.7,-0.3M532.37,521.83l0.7,-0.3M531.40,518.55l0.7,-0.3M534.21,516.21l0.7,-0.3M537.98,517.15l0.7,-0.3M538.95,520.43l0.7,-0.3M524.01,524.70l0.7,-0.3M526.82,522.36l0.7,-0.3M530.59,523.30l0.7,-0.3M553.46,519.09l0.7,-0.3M549.69,518.15l0.7,-0.3M548.72,514.87l0.7,-0.3M551.53,512.54l0.7,-0.3M555.31,513.48l0.7,-0.3M556.27,516.76l0.7,-0.3M541.33,521.02l0.7,-0.3M544.14,518.69l0.7,-0.3M547.91,519.63l0.7,-0.3M558.65,517.35l0.7,-0.3" stroke="#ff2525" stroke-width="1.1" stroke-linecap="round" fill="none" opacity="0.95"/>
<path d="M505.70,528.30L506.80,524.00L508.10,528.30Z" fill="#3a3a3a" stroke="#8a8a8a" stroke-width="0.35"/>
<path d="M497.30,488.00 L497.65,488.00 L498.03,493.59 L498.21,510.38 L498.56,519.70 L498.96,525.30 L495.64,525.30 L496.04,519.70 L496.39,510.38 L496.56,493.59 L496.95,488.00 Z" fill="url(#spk)"/>
<ellipse cx="497.00" cy="525.70" rx="2.62" ry="1.93" fill="#38323e"/>
<path d="M502.00,492.00 L502.35,492.00 L502.73,497.59 L502.91,514.38 L503.26,523.70 L503.66,529.30 L500.34,529.30 L500.74,523.70 L501.09,514.38 L501.26,497.59 L501.65,492.00 Z" fill="url(#spk)"/>
<ellipse cx="501.70" cy="529.70" rx="2.62" ry="1.93" fill="#38323e"/>
<text x="474.40" y="480.80" font-size="17" fill="#ff0000" color="#ff0000" text-anchor="start" font-weight="normal" font-style="normal" >d</text>
<text x="483.85" y="485.20" font-size="11" fill="#ff0000" color="#ff0000" text-anchor="start" font-weight="normal" font-style="normal" >2</text>
<line x1="629.30" y1="467.30" x2="574.30" y2="513.90" stroke="#dcdcdc" stroke-width="1.0"/>
<line x1="629.30" y1="467.30" x2="682.90" y2="514.30" stroke="#dcdcdc" stroke-width="1.0"/>
<line x1="629.30" y1="429.00" x2="629.30" y2="467.30" stroke="#b8b8b8" stroke-width="1.0"/>
<line x1="574.30" y1="475.60" x2="574.30" y2="513.90" stroke="#bdbdbd" stroke-width="1.0"/>
<line x1="682.90" y1="476.00" x2="682.90" y2="514.30" stroke="#c4c4c4" stroke-width="1.0"/>
<line x1="627.90" y1="522.60" x2="627.90" y2="560.90" stroke="#d0d0d0" stroke-width="1.3"/>
<line x1="574.30" y1="513.90" x2="627.90" y2="560.90" stroke="#9a9a9a" stroke-width="1.0"/>
<line x1="682.90" y1="514.30" x2="627.90" y2="560.90" stroke="#9a9a9a" stroke-width="1.0"/>
<line x1="629.30" y1="429.00" x2="574.30" y2="475.60" stroke="#8c8c8c" stroke-width="1.0"/>
<line x1="629.30" y1="429.00" x2="682.90" y2="476.00" stroke="#8c8c8c" stroke-width="1.0"/>
<line x1="574.30" y1="475.60" x2="627.90" y2="522.60" stroke="#858585" stroke-width="1.0"/>
<line x1="682.90" y1="476.00" x2="627.90" y2="522.60" stroke="#858585" stroke-width="1.0"/>
<path d="M625.55,477.15l0.7,-0.3M628.08,485.78l0.7,-0.3M624.31,484.84l0.7,-0.3M623.35,481.56l0.7,-0.3M626.16,479.22l0.7,-0.3M629.93,480.16l0.7,-0.3M630.89,483.44l0.7,-0.3M620.69,491.93l0.7,-0.3M622.54,486.31l0.7,-0.3M623.50,489.59l0.7,-0.3M638.01,488.25l0.7,-0.3M634.24,487.31l0.7,-0.3M633.27,484.04l0.7,-0.3M626.84,493.46l0.7,-0.3M625.88,490.19l0.7,-0.3M628.69,487.85l0.7,-0.3M632.46,488.79l0.7,-0.3M619.45,499.62l0.7,-0.3M618.49,496.34l0.7,-0.3M621.30,494.00l0.7,-0.3M625.07,494.94l0.7,-0.3M615.83,506.71l0.7,-0.3M617.67,501.09l0.7,-0.3M640.54,496.88l0.7,-0.3M636.77,495.94l0.7,-0.3M642.39,491.27l0.7,-0.3M643.35,494.55l0.7,-0.3M629.37,502.09l0.7,-0.3M634.99,497.42l0.7,-0.3M635.96,500.70l0.7,-0.3M621.98,508.24l0.7,-0.3M621.02,504.97l0.7,-0.3M623.83,502.63l0.7,-0.3M627.60,503.57l0.7,-0.3M614.59,514.39l0.7,-0.3M613.62,511.12l0.7,-0.3M616.43,508.78l0.7,-0.3M620.21,509.72l0.7,-0.3M610.96,521.49l0.7,-0.3M612.81,515.87l0.7,-0.3M613.77,519.15l0.7,-0.3M650.47,499.36l0.7,-0.3M645.73,495.14l0.7,-0.3M643.07,505.51l0.7,-0.3M639.30,504.57l0.7,-0.3M645.88,503.17l0.7,-0.3M631.91,510.72l0.7,-0.3M637.53,506.05l0.7,-0.3M638.49,509.32l0.7,-0.3M624.51,516.87l0.7,-0.3M623.55,513.59l0.7,-0.3M626.36,511.26l0.7,-0.3M630.13,512.20l0.7,-0.3M620.89,523.96l0.7,-0.3M617.12,523.02l0.7,-0.3M616.16,519.74l0.7,-0.3M618.97,517.41l0.7,-0.3M613.50,530.12l0.7,-0.3M609.72,529.17l0.7,-0.3M608.76,525.90l0.7,-0.3M611.57,523.56l0.7,-0.3M615.34,524.50l0.7,-0.3M616.31,527.78l0.7,-0.3M607.95,530.65l0.7,-0.3M653.00,507.99l0.7,-0.3M648.27,503.77l0.7,-0.3M651.07,501.43l0.7,-0.3M654.85,502.37l0.7,-0.3M655.81,505.65l0.7,-0.3M645.61,514.14l0.7,-0.3M641.83,513.20l0.7,-0.3M648.42,511.80l0.7,-0.3M638.21,520.29l0.7,-0.3M634.44,519.35l0.7,-0.3M640.06,514.67l0.7,-0.3M641.02,517.95l0.7,-0.3M630.82,526.44l0.7,-0.3M627.05,525.50l0.7,-0.3M626.08,522.22l0.7,-0.3M628.89,519.88l0.7,-0.3M632.66,520.82l0.7,-0.3M633.63,524.10l0.7,-0.3M618.69,528.37l0.7,-0.3M621.50,526.03l0.7,-0.3M625.27,526.98l0.7,-0.3M662.93,510.46l0.7,-0.3M659.15,509.52l0.7,-0.3M658.19,506.25l0.7,-0.3M655.53,516.62l0.7,-0.3M651.76,515.67l0.7,-0.3M650.80,512.40l0.7,-0.3M653.61,510.06l0.7,-0.3M657.38,511.00l0.7,-0.3M658.34,514.28l0.7,-0.3M648.14,522.77l0.7,-0.3M644.37,521.83l0.7,-0.3M643.40,518.55l0.7,-0.3M646.21,516.21l0.7,-0.3M649.98,517.15l0.7,-0.3M650.95,520.43l0.7,-0.3M636.01,524.70l0.7,-0.3M638.82,522.36l0.7,-0.3M642.59,523.30l0.7,-0.3M665.46,519.09l0.7,-0.3M661.69,518.15l0.7,-0.3M660.72,514.87l0.7,-0.3M663.53,512.54l0.7,-0.3M667.31,513.48l0.7,-0.3M668.27,516.76l0.7,-0.3M653.33,521.02l0.7,-0.3M656.14,518.69l0.7,-0.3M659.91,519.63l0.7,-0.3M670.65,517.35l0.7,-0.3" stroke="#ff2525" stroke-width="1.1" stroke-linecap="round" fill="none" opacity="0.95"/>
<path d="M619.40,504.60l0.8,-0.3M623.34,502.06l0.8,-0.3M627.28,499.52l0.8,-0.3M631.22,496.98l0.8,-0.3M635.16,494.44l0.8,-0.3M639.10,491.90l0.8,-0.3M618.20,515.00l0.8,-0.3M621.83,512.98l0.8,-0.3M625.45,510.95l0.8,-0.3M629.08,508.93l0.8,-0.3M632.70,506.90l0.8,-0.3M636.33,504.88l0.8,-0.3M639.95,502.85l0.8,-0.3M643.58,500.82l0.8,-0.3M647.20,498.80l0.8,-0.3M625.20,520.80l0.8,-0.3M629.00,518.81l0.8,-0.3M632.80,516.83l0.8,-0.3M636.60,514.84l0.8,-0.3M640.40,512.86l0.8,-0.3M644.20,510.87l0.8,-0.3M648.00,508.89l0.8,-0.3M651.80,506.90l0.8,-0.3" stroke="#9a9a9a" stroke-width="1.0" stroke-linecap="round" fill="none"/>
<path d="M617.10,504.40L618.10,500.20L619.30,504.40ZM621.04,501.86L622.04,497.66L623.24,501.86ZM624.98,499.32L625.98,495.12L627.18,499.32ZM628.92,496.78L629.92,492.58L631.12,496.78ZM632.86,494.24L633.86,490.04L635.06,494.24ZM636.80,491.70L637.80,487.50L639.00,491.70ZM615.90,514.80L616.90,510.60L618.10,514.80ZM619.52,512.77L620.52,508.58L621.73,512.77ZM623.15,510.75L624.15,506.55L625.35,510.75ZM626.77,508.73L627.77,504.53L628.98,508.73ZM630.40,506.70L631.40,502.50L632.60,506.70ZM634.02,504.68L635.02,500.48L636.23,504.68ZM637.65,502.65L638.65,498.45L639.85,502.65ZM641.27,500.62L642.27,496.43L643.48,500.62ZM644.90,498.60L645.90,494.40L647.10,498.60ZM622.90,520.60L623.90,516.40L625.10,520.60ZM626.70,518.61L627.70,514.41L628.90,518.61ZM630.50,516.63L631.50,512.43L632.70,516.63ZM634.30,514.64L635.30,510.44L636.50,514.64ZM638.10,512.66L639.10,508.46L640.30,512.66ZM641.90,510.67L642.90,506.47L644.10,510.67ZM645.70,508.69L646.70,504.49L647.90,508.69ZM649.50,506.70L650.50,502.50L651.70,506.70ZM616.10,524.30L617.20,516.50L618.50,524.30ZM619.30,522.80L620.40,516.50L621.70,522.80ZM622.50,520.80L623.60,515.50L624.90,520.80Z" fill="#3a3a3a" stroke="#8a8a8a" stroke-width="0.35"/>
<path d="M609.30,488.00 L609.65,488.00 L610.03,493.59 L610.21,510.38 L610.56,519.70 L610.96,525.30 L607.64,525.30 L608.04,519.70 L608.39,510.38 L608.56,493.59 L608.95,488.00 Z" fill="url(#spk)"/>
<ellipse cx="609.00" cy="525.70" rx="2.62" ry="1.93" fill="#38323e"/>
<path d="M614.00,492.00 L614.35,492.00 L614.74,497.59 L614.91,514.38 L615.26,523.70 L615.66,529.30 L612.34,529.30 L612.74,523.70 L613.09,514.38 L613.26,497.59 L613.65,492.00 Z" fill="url(#spk)"/>
<ellipse cx="613.70" cy="529.70" rx="2.62" ry="1.93" fill="#38323e"/>
<text x="586.40" y="480.80" font-size="17" fill="#ff0000" color="#ff0000" text-anchor="start" font-weight="normal" font-style="normal" >d</text>
<text x="595.85" y="485.20" font-size="11" fill="#ff0000" color="#ff0000" text-anchor="start" font-weight="normal" font-style="normal" >3</text>
</svg>
</body></html>
